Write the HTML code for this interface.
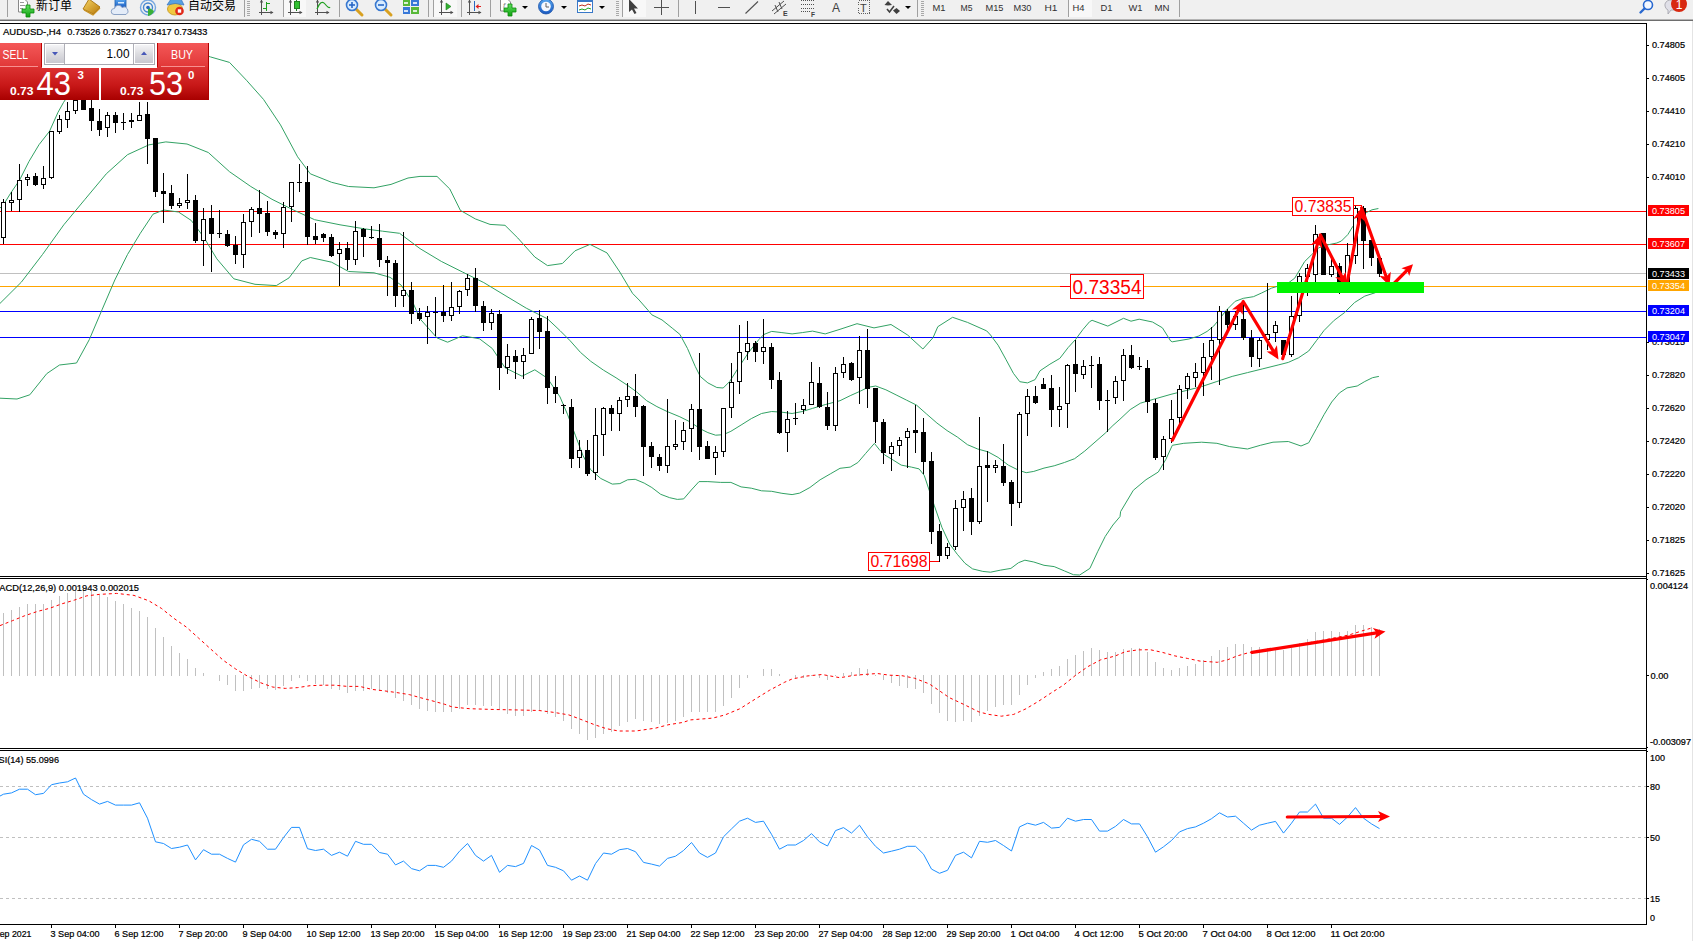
<!DOCTYPE html>
<html lang="zh"><head><meta charset="utf-8"><title>AUDUSD-,H4</title>
<style>html,body{margin:0;padding:0;background:#fff;overflow:hidden}body{width:1693px;height:941px}</style></head>
<body>
<svg width="1693" height="941" viewBox="0 0 1693 941" font-family='"Liberation Sans", "Noto Sans CJK SC", sans-serif' style="display:block">
<defs>
<linearGradient id="gs" x1="0" y1="0" x2="0" y2="1"><stop offset="0" stop-color="#f45858"/><stop offset="1" stop-color="#e03636"/></linearGradient>
<linearGradient id="gd" x1="0" y1="0" x2="0" y2="1"><stop offset="0" stop-color="#dc3232"/><stop offset="0.55" stop-color="#c81818"/><stop offset="1" stop-color="#a80000"/></linearGradient>
<linearGradient id="gb" x1="0" y1="0" x2="0" y2="1"><stop offset="0" stop-color="#f4f4f6"/><stop offset="0.5" stop-color="#dcdce0"/><stop offset="1" stop-color="#c8c8d0"/></linearGradient>
<linearGradient id="gold" x1="0" y1="0" x2="1" y2="1"><stop offset="0" stop-color="#f8d868"/><stop offset="1" stop-color="#b87808"/></linearGradient>
<linearGradient id="blu" x1="0" y1="0" x2="0" y2="1"><stop offset="0" stop-color="#58a8f0"/><stop offset="1" stop-color="#1858c0"/></linearGradient>
<linearGradient id="grn" x1="0" y1="0" x2="0" y2="1"><stop offset="0" stop-color="#60e060"/><stop offset="1" stop-color="#10a010"/></linearGradient>
</defs>
<rect x="0" y="0" width="1693" height="941" fill="#fff"/>
<g shape-rendering="crispEdges">
<rect x="0" y="273" width="1646" height="1" fill="#c0c0c0" />
<rect x="0" y="211" width="1646" height="1" fill="#ff0000" />
<rect x="0" y="244" width="1646" height="1" fill="#ff0000" />
<rect x="0" y="286" width="1646" height="1" fill="#ffa500" />
<rect x="0" y="311" width="1646" height="1" fill="#0000ff" />
<rect x="0" y="337" width="1646" height="1" fill="#0000ff" />
</g>
<polyline points="0.0,208.0 3.3,205.0 11.0,192.6 19.4,180.4 29.0,161.4 39.0,144.7 49.5,131.3 58.0,112.3 63.6,102.3 80.0,78.0 110.0,56.0 150.0,48.0 190.0,50.0 210.4,56.9 229.5,62.4 246.5,80.3 263.5,99.4 280.5,124.9 297.6,156.8 310.3,173.8 331.6,182.3 348.6,186.5 374.0,187.8 391.0,184.4 408.0,178.0 420.0,176.4 437.0,176.4 449.8,189.0 460.4,210.4 475.3,218.9 490.0,224.4 505.0,225.3 517.8,238.0 534.8,257.0 547.5,265.6 562.4,263.5 575.0,250.8 590.0,244.4 607.0,252.9 619.8,272.0 632.5,293.3 639.1,300.0 648.0,310.2 651.8,314.8 662.0,319.9 672.2,328.1 679.9,334.4 687.5,348.5 695.2,366.3 700.3,376.5 707.9,382.9 716.8,387.5 723.2,388.0 729.6,381.6 738.5,367.6 748.7,352.3 758.9,339.5 764.0,334.4 771.7,331.4 781.9,332.6 792.1,333.9 802.3,332.6 812.5,331.1 825.2,333.9 840.0,329.3 857.0,323.7 874.0,327.9 891.0,324.5 907.6,335.0 922.9,349.0 933.1,337.6 937.8,326.7 952.6,317.3 967.5,322.4 986.7,330.9 990.5,335.0 998.1,345.2 1005.8,359.2 1013.4,373.3 1019.8,381.7 1027.5,382.9 1035.1,379.6 1040.0,370.8 1049.9,364.2 1059.8,358.4 1068.1,347.6 1075.6,339.4 1083.0,329.4 1089.6,321.7 1092.1,320.3 1107.8,326.1 1123.5,318.3 1131.0,321.2 1139.2,319.2 1152.5,322.0 1162.4,327.8 1170.7,341.0 1172.3,341.8 1188.9,339.0 1198.8,336.0 1207.1,331.4 1213.7,326.1 1220.3,317.9 1226.9,309.6 1235.2,301.3 1243.4,298.3 1253.4,296.7 1261.6,293.0 1271.6,288.1 1279.8,285.6 1288.1,283.1 1294.7,278.2 1299.7,269.9 1304.6,261.6 1311.3,255.0 1318.9,247.7 1329.0,244.6 1336.8,243.0 1341.4,241.0 1347.8,234.6 1352.9,226.3 1360.0,217.0 1366.9,212.3 1372.0,209.8 1378.4,208.5" fill="none" stroke="#32a264" stroke-width="1" />
<polyline points="0.0,303.4 21.3,282.2 42.5,254.5 63.8,224.8 85.0,199.3 106.3,173.8 127.5,154.7 148.8,144.9 165.8,141.9 187.0,144.0 208.3,152.5 229.5,171.7 250.8,186.5 272.0,199.3 293.3,209.9 314.6,219.7 340.0,224.8 365.6,229.0 382.6,231.2 399.6,233.3 420.0,248.6 441.3,261.4 462.5,272.0 483.8,282.6 505.0,295.4 526.3,308.2 547.5,318.8 560.0,330.6 570.2,340.8 580.4,352.3 590.6,361.2 603.4,370.1 616.1,377.8 627.6,385.4 636.5,391.8 646.7,400.7 656.9,406.6 667.1,411.5 679.9,416.8 690.1,421.9 700.3,428.8 707.9,432.6 715.6,435.2 723.2,434.7 730.9,431.3 741.1,425.0 751.3,418.6 761.5,413.5 771.7,411.5 781.9,412.2 792.1,413.5 802.3,411.5 812.5,408.4 825.2,404.6 840.0,400.7 850.2,395.7 860.4,391.1 868.1,387.3 875.7,386.0 885.9,389.8 896.1,394.9 906.3,400.0 916.5,405.1 926.7,414.1 936.9,423.0 947.1,430.6 957.3,437.0 967.5,444.7 977.7,449.0 987.9,451.8 998.1,457.4 1008.3,465.1 1018.5,470.2 1026.2,472.7 1033.8,471.4 1044.0,468.1 1054.2,465.8 1064.4,462.5 1074.6,458.7 1084.8,451.0 1095.0,442.1 1105.2,433.2 1112.9,425.5 1120.0,419.2 1130.2,409.6 1140.4,403.2 1153.2,399.4 1171.0,394.3 1186.3,390.5 1201.6,386.6 1216.9,381.5 1232.2,376.4 1247.5,372.6 1262.8,368.8 1278.1,365.0 1288.3,362.4 1298.5,357.8 1308.7,351.0 1316.4,340.7 1324.0,330.5 1334.2,320.3 1344.4,312.7 1354.6,302.5 1364.8,296.1 1375.0,292.8 1378.9,291.0" fill="none" stroke="#32a264" stroke-width="1" />
<polyline points="0.0,398.2 17.0,399.0 29.8,394.8 46.8,373.6 59.5,365.0 76.5,363.0 89.3,339.6 102.0,309.8 114.8,280.0 127.5,254.5 140.3,233.3 153.0,214.2 163.7,210.0 178.5,212.0 191.3,220.5 204.0,237.5 216.8,258.8 233.8,278.8 255.0,284.3 276.3,285.6 289.0,277.9 301.8,260.9 310.3,257.5 331.6,262.2 348.6,271.5 374.0,272.8 390.0,277.3 401.0,285.0 413.0,302.8 420.0,318.8 437.0,337.9 447.6,342.2 462.5,335.8 479.5,338.8 492.3,348.5 505.0,367.7 522.0,376.2 534.8,369.8 547.5,378.3 560.0,396.9 567.7,414.8 575.3,435.2 583.0,455.6 590.6,469.6 600.8,478.5 612.3,484.1 619.9,483.6 627.6,479.8 635.2,479.3 644.2,483.1 651.8,487.5 660.7,494.3 669.7,497.7 677.3,499.4 683.7,498.9 691.3,490.0 699.0,481.6 707.9,481.6 720.7,482.4 730.9,482.4 741.1,486.9 751.3,488.2 761.5,490.8 771.7,491.3 781.9,493.3 792.1,494.6 799.7,493.1 809.9,487.5 820.1,479.8 830.3,473.9 840.0,468.3 850.2,467.1 857.9,462.5 865.5,453.6 874.4,443.4 879.5,449.8 884.6,454.9 891.0,458.7 901.2,465.1 911.4,467.1 919.1,468.9 924.2,475.3 929.3,490.6 934.4,505.9 942.0,527.6 949.7,544.1 957.3,554.3 965.0,563.3 972.6,568.9 982.8,571.4 990.5,572.2 1000.7,570.1 1010.9,568.4 1018.5,562.7 1024.9,560.2 1033.8,562.0 1044.0,565.3 1054.2,566.6 1064.4,570.9 1073.4,574.7 1079.7,575.0 1089.9,568.4 1097.6,551.8 1105.2,536.5 1112.9,525.0 1120.0,516.6 1120.6,511.6 1133.3,490.3 1146.0,479.7 1158.3,472.0 1165.9,459.3 1172.3,445.3 1183.8,443.3 1201.6,442.2 1216.9,443.3 1229.7,446.6 1247.5,449.0 1260.3,445.3 1273.0,442.2 1288.3,441.5 1301.0,446.0 1308.7,442.8 1316.4,428.7 1324.0,414.7 1331.7,402.0 1339.3,393.0 1347.0,387.9 1357.2,386.0 1364.8,381.5 1372.5,377.7 1378.9,376.4" fill="none" stroke="#32a264" stroke-width="1" />
<g shape-rendering="crispEdges">
<rect x="3" y="199" width="1" height="45" fill="#000"/>
<rect x="1" y="202" width="5" height="36" fill="#000"/>
<rect x="2" y="203" width="3" height="34" fill="#fff"/>
<rect x="11" y="192" width="1" height="19" fill="#000"/>
<rect x="9" y="200" width="5" height="3" fill="#000"/>
<rect x="10" y="201" width="3" height="1" fill="#fff"/>
<rect x="19" y="164" width="1" height="48" fill="#000"/>
<rect x="17" y="180" width="5" height="20" fill="#000"/>
<rect x="18" y="181" width="3" height="18" fill="#fff"/>
<rect x="27" y="174" width="1" height="12" fill="#000"/>
<rect x="25" y="177" width="5" height="3" fill="#000"/>
<rect x="26" y="178" width="3" height="1" fill="#fff"/>
<rect x="35" y="173" width="1" height="13" fill="#000"/>
<rect x="33" y="176" width="5" height="9" fill="#000"/>
<rect x="43" y="166" width="1" height="23" fill="#000"/>
<rect x="41" y="178" width="5" height="7" fill="#000"/>
<rect x="42" y="179" width="3" height="5" fill="#fff"/>
<rect x="51" y="131" width="1" height="48" fill="#000"/>
<rect x="49" y="131" width="5" height="47" fill="#000"/>
<rect x="50" y="132" width="3" height="45" fill="#fff"/>
<rect x="59" y="115" width="1" height="19" fill="#000"/>
<rect x="57" y="119" width="5" height="13" fill="#000"/>
<rect x="58" y="120" width="3" height="11" fill="#fff"/>
<rect x="67" y="102" width="1" height="26" fill="#000"/>
<rect x="65" y="111" width="5" height="9" fill="#000"/>
<rect x="66" y="112" width="3" height="7" fill="#fff"/>
<rect x="75" y="98" width="1" height="16" fill="#000"/>
<rect x="73" y="100" width="5" height="11" fill="#000"/>
<rect x="74" y="101" width="3" height="9" fill="#fff"/>
<rect x="83" y="98" width="1" height="12" fill="#000"/>
<rect x="81" y="98" width="5" height="12" fill="#000"/>
<rect x="91" y="100" width="1" height="31" fill="#000"/>
<rect x="89" y="108" width="5" height="13" fill="#000"/>
<rect x="99" y="109" width="1" height="27" fill="#000"/>
<rect x="97" y="121" width="5" height="9" fill="#000"/>
<rect x="107" y="112" width="1" height="25" fill="#000"/>
<rect x="105" y="115" width="5" height="13" fill="#000"/>
<rect x="106" y="116" width="3" height="11" fill="#fff"/>
<rect x="115" y="112" width="1" height="21" fill="#000"/>
<rect x="113" y="115" width="5" height="8" fill="#000"/>
<rect x="123" y="113" width="1" height="17" fill="#000"/>
<rect x="121" y="122" width="5" height="1" fill="#000"/>
<rect x="131" y="113" width="1" height="15" fill="#000"/>
<rect x="129" y="120" width="5" height="2" fill="#000"/>
<rect x="139" y="102" width="1" height="19" fill="#000"/>
<rect x="137" y="115" width="5" height="6" fill="#000"/>
<rect x="138" y="116" width="3" height="4" fill="#fff"/>
<rect x="147" y="102" width="1" height="62" fill="#000"/>
<rect x="145" y="114" width="5" height="25" fill="#000"/>
<rect x="155" y="138" width="1" height="59" fill="#000"/>
<rect x="153" y="138" width="5" height="54" fill="#000"/>
<rect x="163" y="173" width="1" height="50" fill="#000"/>
<rect x="161" y="191" width="5" height="3" fill="#000"/>
<rect x="171" y="185" width="1" height="24" fill="#000"/>
<rect x="169" y="193" width="5" height="13" fill="#000"/>
<rect x="179" y="198" width="1" height="10" fill="#000"/>
<rect x="177" y="203" width="5" height="3" fill="#000"/>
<rect x="178" y="204" width="3" height="1" fill="#fff"/>
<rect x="187" y="174" width="1" height="35" fill="#000"/>
<rect x="185" y="200" width="5" height="3" fill="#000"/>
<rect x="186" y="201" width="3" height="1" fill="#fff"/>
<rect x="195" y="195" width="1" height="48" fill="#000"/>
<rect x="193" y="200" width="5" height="41" fill="#000"/>
<rect x="203" y="208" width="1" height="58" fill="#000"/>
<rect x="201" y="219" width="5" height="22" fill="#000"/>
<rect x="202" y="220" width="3" height="20" fill="#fff"/>
<rect x="211" y="205" width="1" height="67" fill="#000"/>
<rect x="209" y="218" width="5" height="16" fill="#000"/>
<rect x="219" y="210" width="1" height="28" fill="#000"/>
<rect x="217" y="233" width="5" height="1" fill="#000"/>
<rect x="227" y="230" width="1" height="17" fill="#000"/>
<rect x="225" y="234" width="5" height="12" fill="#000"/>
<rect x="235" y="236" width="1" height="28" fill="#000"/>
<rect x="233" y="245" width="5" height="10" fill="#000"/>
<rect x="243" y="214" width="1" height="54" fill="#000"/>
<rect x="241" y="222" width="5" height="33" fill="#000"/>
<rect x="242" y="223" width="3" height="31" fill="#fff"/>
<rect x="251" y="207" width="1" height="30" fill="#000"/>
<rect x="249" y="209" width="5" height="13" fill="#000"/>
<rect x="250" y="210" width="3" height="11" fill="#fff"/>
<rect x="259" y="190" width="1" height="43" fill="#000"/>
<rect x="257" y="208" width="5" height="6" fill="#000"/>
<rect x="267" y="201" width="1" height="35" fill="#000"/>
<rect x="265" y="213" width="5" height="19" fill="#000"/>
<rect x="275" y="230" width="1" height="9" fill="#000"/>
<rect x="273" y="232" width="5" height="3" fill="#000"/>
<rect x="283" y="202" width="1" height="46" fill="#000"/>
<rect x="281" y="207" width="5" height="27" fill="#000"/>
<rect x="282" y="208" width="3" height="25" fill="#fff"/>
<rect x="291" y="182" width="1" height="40" fill="#000"/>
<rect x="289" y="182" width="5" height="25" fill="#000"/>
<rect x="290" y="183" width="3" height="23" fill="#fff"/>
<rect x="299" y="164" width="1" height="28" fill="#000"/>
<rect x="297" y="182" width="5" height="1" fill="#000"/>
<rect x="307" y="166" width="1" height="79" fill="#000"/>
<rect x="305" y="182" width="5" height="55" fill="#000"/>
<rect x="315" y="223" width="1" height="21" fill="#000"/>
<rect x="313" y="236" width="5" height="4" fill="#000"/>
<rect x="323" y="233" width="1" height="9" fill="#000"/>
<rect x="321" y="234" width="5" height="4" fill="#000"/>
<rect x="331" y="234" width="1" height="23" fill="#000"/>
<rect x="329" y="237" width="5" height="19" fill="#000"/>
<rect x="339" y="242" width="1" height="44" fill="#000"/>
<rect x="337" y="249" width="5" height="5" fill="#000"/>
<rect x="338" y="250" width="3" height="3" fill="#fff"/>
<rect x="347" y="242" width="1" height="28" fill="#000"/>
<rect x="345" y="248" width="5" height="12" fill="#000"/>
<rect x="355" y="221" width="1" height="44" fill="#000"/>
<rect x="353" y="231" width="5" height="29" fill="#000"/>
<rect x="354" y="232" width="3" height="27" fill="#fff"/>
<rect x="363" y="228" width="1" height="29" fill="#000"/>
<rect x="361" y="229" width="5" height="8" fill="#000"/>
<rect x="371" y="226" width="1" height="13" fill="#000"/>
<rect x="369" y="237" width="5" height="1" fill="#000"/>
<rect x="379" y="224" width="1" height="43" fill="#000"/>
<rect x="377" y="238" width="5" height="22" fill="#000"/>
<rect x="387" y="256" width="1" height="40" fill="#000"/>
<rect x="385" y="260" width="5" height="3" fill="#000"/>
<rect x="395" y="260" width="1" height="47" fill="#000"/>
<rect x="393" y="263" width="5" height="33" fill="#000"/>
<rect x="403" y="232" width="1" height="75" fill="#000"/>
<rect x="401" y="290" width="5" height="6" fill="#000"/>
<rect x="402" y="291" width="3" height="4" fill="#fff"/>
<rect x="411" y="282" width="1" height="42" fill="#000"/>
<rect x="409" y="290" width="5" height="24" fill="#000"/>
<rect x="419" y="308" width="1" height="13" fill="#000"/>
<rect x="417" y="313" width="5" height="6" fill="#000"/>
<rect x="427" y="306" width="1" height="38" fill="#000"/>
<rect x="425" y="312" width="5" height="5" fill="#000"/>
<rect x="426" y="313" width="3" height="3" fill="#fff"/>
<rect x="435" y="297" width="1" height="39" fill="#000"/>
<rect x="433" y="312" width="5" height="1" fill="#000"/>
<rect x="443" y="285" width="1" height="37" fill="#000"/>
<rect x="441" y="312" width="5" height="4" fill="#000"/>
<rect x="451" y="282" width="1" height="39" fill="#000"/>
<rect x="449" y="307" width="5" height="9" fill="#000"/>
<rect x="450" y="308" width="3" height="7" fill="#fff"/>
<rect x="459" y="290" width="1" height="24" fill="#000"/>
<rect x="457" y="291" width="5" height="16" fill="#000"/>
<rect x="458" y="292" width="3" height="14" fill="#fff"/>
<rect x="467" y="274" width="1" height="22" fill="#000"/>
<rect x="465" y="278" width="5" height="12" fill="#000"/>
<rect x="466" y="279" width="3" height="10" fill="#fff"/>
<rect x="475" y="268" width="1" height="44" fill="#000"/>
<rect x="473" y="278" width="5" height="28" fill="#000"/>
<rect x="483" y="301" width="1" height="30" fill="#000"/>
<rect x="481" y="306" width="5" height="17" fill="#000"/>
<rect x="491" y="309" width="1" height="21" fill="#000"/>
<rect x="489" y="313" width="5" height="10" fill="#000"/>
<rect x="490" y="314" width="3" height="8" fill="#fff"/>
<rect x="499" y="310" width="1" height="80" fill="#000"/>
<rect x="497" y="314" width="5" height="54" fill="#000"/>
<rect x="507" y="344" width="1" height="30" fill="#000"/>
<rect x="505" y="356" width="5" height="12" fill="#000"/>
<rect x="506" y="357" width="3" height="10" fill="#fff"/>
<rect x="515" y="350" width="1" height="29" fill="#000"/>
<rect x="513" y="356" width="5" height="6" fill="#000"/>
<rect x="523" y="348" width="1" height="31" fill="#000"/>
<rect x="521" y="355" width="5" height="7" fill="#000"/>
<rect x="522" y="356" width="3" height="5" fill="#fff"/>
<rect x="531" y="317" width="1" height="37" fill="#000"/>
<rect x="529" y="319" width="5" height="35" fill="#000"/>
<rect x="530" y="320" width="3" height="33" fill="#fff"/>
<rect x="539" y="310" width="1" height="39" fill="#000"/>
<rect x="537" y="318" width="5" height="14" fill="#000"/>
<rect x="547" y="316" width="1" height="88" fill="#000"/>
<rect x="545" y="331" width="5" height="57" fill="#000"/>
<rect x="555" y="376" width="1" height="27" fill="#000"/>
<rect x="553" y="387" width="5" height="7" fill="#000"/>
<rect x="563" y="404" width="1" height="10" fill="#000"/>
<rect x="561" y="405" width="5" height="1" fill="#000"/>
<rect x="571" y="399" width="1" height="69" fill="#000"/>
<rect x="569" y="407" width="5" height="52" fill="#000"/>
<rect x="579" y="440" width="1" height="28" fill="#000"/>
<rect x="577" y="450" width="5" height="8" fill="#000"/>
<rect x="578" y="451" width="3" height="6" fill="#fff"/>
<rect x="587" y="440" width="1" height="36" fill="#000"/>
<rect x="585" y="450" width="5" height="24" fill="#000"/>
<rect x="595" y="408" width="1" height="72" fill="#000"/>
<rect x="593" y="435" width="5" height="38" fill="#000"/>
<rect x="594" y="436" width="3" height="36" fill="#fff"/>
<rect x="603" y="407" width="1" height="49" fill="#000"/>
<rect x="601" y="408" width="5" height="27" fill="#000"/>
<rect x="602" y="409" width="3" height="25" fill="#fff"/>
<rect x="611" y="405" width="1" height="26" fill="#000"/>
<rect x="609" y="408" width="5" height="6" fill="#000"/>
<rect x="619" y="397" width="1" height="34" fill="#000"/>
<rect x="617" y="400" width="5" height="14" fill="#000"/>
<rect x="618" y="401" width="3" height="12" fill="#fff"/>
<rect x="627" y="383" width="1" height="24" fill="#000"/>
<rect x="625" y="396" width="5" height="4" fill="#000"/>
<rect x="626" y="397" width="3" height="2" fill="#fff"/>
<rect x="635" y="374" width="1" height="43" fill="#000"/>
<rect x="633" y="396" width="5" height="11" fill="#000"/>
<rect x="643" y="405" width="1" height="71" fill="#000"/>
<rect x="641" y="406" width="5" height="41" fill="#000"/>
<rect x="651" y="442" width="1" height="26" fill="#000"/>
<rect x="649" y="446" width="5" height="11" fill="#000"/>
<rect x="659" y="454" width="1" height="17" fill="#000"/>
<rect x="657" y="457" width="5" height="9" fill="#000"/>
<rect x="667" y="399" width="1" height="74" fill="#000"/>
<rect x="665" y="446" width="5" height="20" fill="#000"/>
<rect x="666" y="447" width="3" height="18" fill="#fff"/>
<rect x="675" y="420" width="1" height="30" fill="#000"/>
<rect x="673" y="444" width="5" height="3" fill="#000"/>
<rect x="674" y="445" width="3" height="1" fill="#fff"/>
<rect x="683" y="422" width="1" height="28" fill="#000"/>
<rect x="681" y="430" width="5" height="12" fill="#000"/>
<rect x="682" y="431" width="3" height="10" fill="#fff"/>
<rect x="691" y="404" width="1" height="48" fill="#000"/>
<rect x="689" y="409" width="5" height="20" fill="#000"/>
<rect x="690" y="410" width="3" height="18" fill="#fff"/>
<rect x="699" y="353" width="1" height="107" fill="#000"/>
<rect x="697" y="409" width="5" height="38" fill="#000"/>
<rect x="707" y="441" width="1" height="18" fill="#000"/>
<rect x="705" y="446" width="5" height="13" fill="#000"/>
<rect x="715" y="446" width="1" height="29" fill="#000"/>
<rect x="713" y="452" width="5" height="6" fill="#000"/>
<rect x="714" y="453" width="3" height="4" fill="#fff"/>
<rect x="723" y="408" width="1" height="49" fill="#000"/>
<rect x="721" y="408" width="5" height="44" fill="#000"/>
<rect x="722" y="409" width="3" height="42" fill="#fff"/>
<rect x="731" y="363" width="1" height="55" fill="#000"/>
<rect x="729" y="382" width="5" height="26" fill="#000"/>
<rect x="730" y="383" width="3" height="24" fill="#fff"/>
<rect x="739" y="325" width="1" height="69" fill="#000"/>
<rect x="737" y="352" width="5" height="30" fill="#000"/>
<rect x="738" y="353" width="3" height="28" fill="#fff"/>
<rect x="747" y="321" width="1" height="39" fill="#000"/>
<rect x="745" y="343" width="5" height="9" fill="#000"/>
<rect x="746" y="344" width="3" height="7" fill="#fff"/>
<rect x="755" y="341" width="1" height="21" fill="#000"/>
<rect x="753" y="343" width="5" height="9" fill="#000"/>
<rect x="763" y="319" width="1" height="45" fill="#000"/>
<rect x="761" y="347" width="5" height="5" fill="#000"/>
<rect x="762" y="348" width="3" height="3" fill="#fff"/>
<rect x="771" y="343" width="1" height="46" fill="#000"/>
<rect x="769" y="347" width="5" height="33" fill="#000"/>
<rect x="779" y="372" width="1" height="62" fill="#000"/>
<rect x="777" y="380" width="5" height="53" fill="#000"/>
<rect x="787" y="411" width="1" height="41" fill="#000"/>
<rect x="785" y="419" width="5" height="14" fill="#000"/>
<rect x="786" y="420" width="3" height="12" fill="#fff"/>
<rect x="795" y="403" width="1" height="22" fill="#000"/>
<rect x="793" y="418" width="5" height="1" fill="#000"/>
<rect x="803" y="399" width="1" height="15" fill="#000"/>
<rect x="801" y="405" width="5" height="5" fill="#000"/>
<rect x="802" y="406" width="3" height="3" fill="#fff"/>
<rect x="811" y="362" width="1" height="43" fill="#000"/>
<rect x="809" y="382" width="5" height="23" fill="#000"/>
<rect x="810" y="383" width="3" height="21" fill="#fff"/>
<rect x="819" y="367" width="1" height="41" fill="#000"/>
<rect x="817" y="383" width="5" height="24" fill="#000"/>
<rect x="827" y="392" width="1" height="38" fill="#000"/>
<rect x="825" y="407" width="5" height="19" fill="#000"/>
<rect x="835" y="367" width="1" height="64" fill="#000"/>
<rect x="833" y="373" width="5" height="53" fill="#000"/>
<rect x="834" y="374" width="3" height="51" fill="#fff"/>
<rect x="843" y="357" width="1" height="21" fill="#000"/>
<rect x="841" y="364" width="5" height="9" fill="#000"/>
<rect x="842" y="365" width="3" height="7" fill="#fff"/>
<rect x="851" y="362" width="1" height="19" fill="#000"/>
<rect x="849" y="363" width="5" height="17" fill="#000"/>
<rect x="859" y="336" width="1" height="68" fill="#000"/>
<rect x="857" y="350" width="5" height="28" fill="#000"/>
<rect x="858" y="351" width="3" height="26" fill="#fff"/>
<rect x="867" y="329" width="1" height="79" fill="#000"/>
<rect x="865" y="350" width="5" height="39" fill="#000"/>
<rect x="875" y="388" width="1" height="55" fill="#000"/>
<rect x="873" y="388" width="5" height="34" fill="#000"/>
<rect x="883" y="419" width="1" height="45" fill="#000"/>
<rect x="881" y="422" width="5" height="31" fill="#000"/>
<rect x="891" y="442" width="1" height="29" fill="#000"/>
<rect x="889" y="446" width="5" height="8" fill="#000"/>
<rect x="890" y="447" width="3" height="6" fill="#fff"/>
<rect x="899" y="437" width="1" height="19" fill="#000"/>
<rect x="897" y="440" width="5" height="6" fill="#000"/>
<rect x="898" y="441" width="3" height="4" fill="#fff"/>
<rect x="907" y="428" width="1" height="40" fill="#000"/>
<rect x="905" y="431" width="5" height="7" fill="#000"/>
<rect x="906" y="432" width="3" height="5" fill="#fff"/>
<rect x="915" y="405" width="1" height="48" fill="#000"/>
<rect x="913" y="430" width="5" height="3" fill="#000"/>
<rect x="923" y="418" width="1" height="56" fill="#000"/>
<rect x="921" y="432" width="5" height="30" fill="#000"/>
<rect x="931" y="452" width="1" height="92" fill="#000"/>
<rect x="929" y="461" width="5" height="71" fill="#000"/>
<rect x="939" y="524" width="1" height="38" fill="#000"/>
<rect x="937" y="531" width="5" height="25" fill="#000"/>
<rect x="947" y="543" width="1" height="16" fill="#000"/>
<rect x="945" y="547" width="5" height="9" fill="#000"/>
<rect x="946" y="548" width="3" height="7" fill="#fff"/>
<rect x="955" y="500" width="1" height="50" fill="#000"/>
<rect x="953" y="508" width="5" height="39" fill="#000"/>
<rect x="954" y="509" width="3" height="37" fill="#fff"/>
<rect x="963" y="491" width="1" height="40" fill="#000"/>
<rect x="961" y="499" width="5" height="9" fill="#000"/>
<rect x="962" y="500" width="3" height="7" fill="#fff"/>
<rect x="971" y="488" width="1" height="47" fill="#000"/>
<rect x="969" y="498" width="5" height="24" fill="#000"/>
<rect x="979" y="417" width="1" height="107" fill="#000"/>
<rect x="977" y="466" width="5" height="56" fill="#000"/>
<rect x="978" y="467" width="3" height="54" fill="#fff"/>
<rect x="987" y="451" width="1" height="51" fill="#000"/>
<rect x="985" y="465" width="5" height="3" fill="#000"/>
<rect x="995" y="460" width="1" height="13" fill="#000"/>
<rect x="993" y="465" width="5" height="3" fill="#000"/>
<rect x="994" y="466" width="3" height="1" fill="#fff"/>
<rect x="1003" y="444" width="1" height="42" fill="#000"/>
<rect x="1001" y="466" width="5" height="17" fill="#000"/>
<rect x="1011" y="480" width="1" height="46" fill="#000"/>
<rect x="1009" y="482" width="5" height="22" fill="#000"/>
<rect x="1019" y="412" width="1" height="96" fill="#000"/>
<rect x="1017" y="414" width="5" height="89" fill="#000"/>
<rect x="1018" y="415" width="3" height="87" fill="#fff"/>
<rect x="1027" y="389" width="1" height="47" fill="#000"/>
<rect x="1025" y="396" width="5" height="18" fill="#000"/>
<rect x="1026" y="397" width="3" height="16" fill="#fff"/>
<rect x="1035" y="386" width="1" height="18" fill="#000"/>
<rect x="1033" y="396" width="5" height="7" fill="#000"/>
<rect x="1043" y="378" width="1" height="11" fill="#000"/>
<rect x="1041" y="384" width="5" height="5" fill="#000"/>
<rect x="1051" y="375" width="1" height="52" fill="#000"/>
<rect x="1049" y="388" width="5" height="22" fill="#000"/>
<rect x="1059" y="387" width="1" height="40" fill="#000"/>
<rect x="1057" y="406" width="5" height="4" fill="#000"/>
<rect x="1058" y="407" width="3" height="2" fill="#fff"/>
<rect x="1067" y="364" width="1" height="64" fill="#000"/>
<rect x="1065" y="365" width="5" height="39" fill="#000"/>
<rect x="1066" y="366" width="3" height="37" fill="#fff"/>
<rect x="1075" y="340" width="1" height="52" fill="#000"/>
<rect x="1073" y="364" width="5" height="10" fill="#000"/>
<rect x="1083" y="360" width="1" height="19" fill="#000"/>
<rect x="1081" y="366" width="5" height="9" fill="#000"/>
<rect x="1082" y="367" width="3" height="7" fill="#fff"/>
<rect x="1091" y="356" width="1" height="32" fill="#000"/>
<rect x="1089" y="365" width="5" height="1" fill="#000"/>
<rect x="1099" y="357" width="1" height="53" fill="#000"/>
<rect x="1097" y="364" width="5" height="37" fill="#000"/>
<rect x="1107" y="390" width="1" height="42" fill="#000"/>
<rect x="1105" y="400" width="5" height="1" fill="#000"/>
<rect x="1115" y="376" width="1" height="28" fill="#000"/>
<rect x="1113" y="381" width="5" height="17" fill="#000"/>
<rect x="1114" y="382" width="3" height="15" fill="#fff"/>
<rect x="1123" y="349" width="1" height="52" fill="#000"/>
<rect x="1121" y="355" width="5" height="26" fill="#000"/>
<rect x="1122" y="356" width="3" height="24" fill="#fff"/>
<rect x="1131" y="345" width="1" height="24" fill="#000"/>
<rect x="1129" y="355" width="5" height="13" fill="#000"/>
<rect x="1139" y="357" width="1" height="13" fill="#000"/>
<rect x="1137" y="366" width="5" height="1" fill="#000"/>
<rect x="1147" y="360" width="1" height="53" fill="#000"/>
<rect x="1145" y="368" width="5" height="34" fill="#000"/>
<rect x="1155" y="399" width="1" height="61" fill="#000"/>
<rect x="1153" y="403" width="5" height="55" fill="#000"/>
<rect x="1163" y="436" width="1" height="34" fill="#000"/>
<rect x="1161" y="439" width="5" height="18" fill="#000"/>
<rect x="1162" y="440" width="3" height="16" fill="#fff"/>
<rect x="1171" y="400" width="1" height="43" fill="#000"/>
<rect x="1169" y="419" width="5" height="20" fill="#000"/>
<rect x="1170" y="420" width="3" height="18" fill="#fff"/>
<rect x="1179" y="385" width="1" height="43" fill="#000"/>
<rect x="1177" y="389" width="5" height="29" fill="#000"/>
<rect x="1178" y="390" width="3" height="27" fill="#fff"/>
<rect x="1187" y="373" width="1" height="26" fill="#000"/>
<rect x="1185" y="376" width="5" height="13" fill="#000"/>
<rect x="1186" y="377" width="3" height="11" fill="#fff"/>
<rect x="1195" y="363" width="1" height="24" fill="#000"/>
<rect x="1193" y="372" width="5" height="6" fill="#000"/>
<rect x="1194" y="373" width="3" height="4" fill="#fff"/>
<rect x="1203" y="343" width="1" height="53" fill="#000"/>
<rect x="1201" y="357" width="5" height="16" fill="#000"/>
<rect x="1202" y="358" width="3" height="14" fill="#fff"/>
<rect x="1211" y="327" width="1" height="53" fill="#000"/>
<rect x="1209" y="340" width="5" height="17" fill="#000"/>
<rect x="1210" y="341" width="3" height="15" fill="#fff"/>
<rect x="1219" y="306" width="1" height="79" fill="#000"/>
<rect x="1217" y="311" width="5" height="29" fill="#000"/>
<rect x="1218" y="312" width="3" height="27" fill="#fff"/>
<rect x="1227" y="309" width="1" height="23" fill="#000"/>
<rect x="1225" y="311" width="5" height="14" fill="#000"/>
<rect x="1235" y="311" width="1" height="19" fill="#000"/>
<rect x="1233" y="316" width="5" height="9" fill="#000"/>
<rect x="1234" y="317" width="3" height="7" fill="#fff"/>
<rect x="1243" y="301" width="1" height="39" fill="#000"/>
<rect x="1241" y="319" width="5" height="19" fill="#000"/>
<rect x="1251" y="330" width="1" height="37" fill="#000"/>
<rect x="1249" y="338" width="5" height="19" fill="#000"/>
<rect x="1259" y="338" width="1" height="29" fill="#000"/>
<rect x="1257" y="340" width="5" height="19" fill="#000"/>
<rect x="1258" y="341" width="3" height="17" fill="#fff"/>
<rect x="1267" y="283" width="1" height="67" fill="#000"/>
<rect x="1265" y="334" width="5" height="6" fill="#000"/>
<rect x="1266" y="335" width="3" height="4" fill="#fff"/>
<rect x="1275" y="321" width="1" height="21" fill="#000"/>
<rect x="1273" y="325" width="5" height="8" fill="#000"/>
<rect x="1274" y="326" width="3" height="6" fill="#fff"/>
<rect x="1283" y="340" width="1" height="16" fill="#000"/>
<rect x="1281" y="340" width="5" height="15" fill="#000"/>
<rect x="1291" y="296" width="1" height="61" fill="#000"/>
<rect x="1289" y="316" width="5" height="39" fill="#000"/>
<rect x="1290" y="317" width="3" height="37" fill="#fff"/>
<rect x="1299" y="273" width="1" height="49" fill="#000"/>
<rect x="1297" y="276" width="5" height="40" fill="#000"/>
<rect x="1298" y="277" width="3" height="38" fill="#fff"/>
<rect x="1307" y="264" width="1" height="32" fill="#000"/>
<rect x="1305" y="268" width="5" height="9" fill="#000"/>
<rect x="1306" y="269" width="3" height="7" fill="#fff"/>
<rect x="1315" y="225" width="1" height="57" fill="#000"/>
<rect x="1313" y="234" width="5" height="41" fill="#000"/>
<rect x="1314" y="235" width="3" height="39" fill="#fff"/>
<rect x="1323" y="233" width="1" height="42" fill="#000"/>
<rect x="1321" y="233" width="5" height="42" fill="#000"/>
<rect x="1331" y="259" width="1" height="18" fill="#000"/>
<rect x="1329" y="266" width="5" height="9" fill="#000"/>
<rect x="1330" y="267" width="3" height="7" fill="#fff"/>
<rect x="1339" y="263" width="1" height="31" fill="#000"/>
<rect x="1337" y="266" width="5" height="16" fill="#000"/>
<rect x="1347" y="243" width="1" height="39" fill="#000"/>
<rect x="1345" y="255" width="5" height="27" fill="#000"/>
<rect x="1346" y="256" width="3" height="25" fill="#fff"/>
<rect x="1355" y="205" width="1" height="59" fill="#000"/>
<rect x="1353" y="208" width="5" height="48" fill="#000"/>
<rect x="1354" y="209" width="3" height="46" fill="#fff"/>
<rect x="1363" y="206" width="1" height="63" fill="#000"/>
<rect x="1361" y="208" width="5" height="33" fill="#000"/>
<rect x="1371" y="240" width="1" height="26" fill="#000"/>
<rect x="1369" y="240" width="5" height="18" fill="#000"/>
<rect x="1379" y="258" width="1" height="19" fill="#000"/>
<rect x="1377" y="258" width="5" height="16" fill="#000"/>
</g>
<line x1="1172.3" y1="440.2" x2="1238.8" y2="309.2" stroke="#ff0000" stroke-width="3.2" stroke-linecap="round"/>
<polygon points="1243.2,300.5 1242.7,314.8 1238.8,309.2 1232.0,309.4" fill="#ff0000"/>
<line x1="1243.2" y1="301.5" x2="1273.4" y2="351.2" stroke="#ff0000" stroke-width="3.2" stroke-linecap="round"/>
<polygon points="1278.5,359.5 1266.6,351.5 1273.4,351.2 1276.9,345.3" fill="#ff0000"/>
<line x1="1282.7" y1="358.6" x2="1317.6" y2="243.6" stroke="#ff0000" stroke-width="3.2" stroke-linecap="round"/>
<polygon points="1320.4,234.3 1322.4,248.5 1317.6,243.6 1310.9,245.0" fill="#ff0000"/>
<line x1="1320.4" y1="235.0" x2="1342.1" y2="277.3" stroke="#ff0000" stroke-width="3.2" stroke-linecap="round"/>
<polygon points="1346.5,286.0 1335.2,277.2 1342.1,277.3 1345.9,271.7" fill="#ff0000"/>
<line x1="1346.5" y1="286.0" x2="1359.8" y2="217.1" stroke="#ff0000" stroke-width="3.2" stroke-linecap="round"/>
<polygon points="1361.6,207.5 1365.0,221.4 1359.8,217.1 1353.3,219.1" fill="#ff0000"/>
<line x1="1361.6" y1="208.0" x2="1386.2" y2="276.8" stroke="#ff0000" stroke-width="3.2" stroke-linecap="round"/>
<polygon points="1389.5,286.0 1379.5,275.8 1386.2,276.8 1390.8,271.7" fill="#ff0000"/>
<line x1="1391.5" y1="286.0" x2="1407.2" y2="270.2" stroke="#ff0000" stroke-width="3.2" stroke-linecap="round"/>
<polygon points="1413.0,264.3 1409.2,276.0 1407.2,270.2 1401.4,268.2" fill="#ff0000"/>
<rect x="1277" y="282" width="147" height="11" fill="#00f400" shape-rendering="crispEdges"/>
<rect x="1070.5" y="274.5" width="73" height="24" fill="#fff" stroke="#ff0000" stroke-width="1" shape-rendering="crispEdges"/>
<text x="1107.0" y="293.5" font-size="20" fill="#ff0000" text-anchor="middle" font-weight="normal" textLength="69" lengthAdjust="spacingAndGlyphs">0.73354</text>
<rect x="1060" y="286" width="10" height="1" fill="#ff0000" shape-rendering="crispEdges"/>
<rect x="1292.5" y="197.5" width="61" height="18" fill="#fff" stroke="#ff0000" stroke-width="1" shape-rendering="crispEdges"/>
<text x="1323.0" y="212" font-size="16.5" fill="#ff0000" text-anchor="middle" font-weight="normal" textLength="57" lengthAdjust="spacingAndGlyphs">0.73835</text>
<polyline points="1353,205.5 1361.5,205.5 1361.5,208" fill="none" stroke="#ff0000" stroke-width="1" shape-rendering="crispEdges"/>
<rect x="868.5" y="552.5" width="61" height="18" fill="#fff" stroke="#ff0000" stroke-width="1" shape-rendering="crispEdges"/>
<text x="899.0" y="567" font-size="16.5" fill="#ff0000" text-anchor="middle" font-weight="normal" textLength="57" lengthAdjust="spacingAndGlyphs">0.71698</text>
<rect x="930" y="561" width="9" height="1" fill="#ff0000" shape-rendering="crispEdges"/>
<g shape-rendering="crispEdges">
<rect x="3" y="613" width="1" height="63" fill="#c0c0c0"/>
<rect x="11" y="610" width="1" height="66" fill="#c0c0c0"/>
<rect x="19" y="607" width="1" height="69" fill="#c0c0c0"/>
<rect x="27" y="604" width="1" height="72" fill="#c0c0c0"/>
<rect x="35" y="604" width="1" height="72" fill="#c0c0c0"/>
<rect x="43" y="604" width="1" height="72" fill="#c0c0c0"/>
<rect x="51" y="600" width="1" height="76" fill="#c0c0c0"/>
<rect x="59" y="596" width="1" height="80" fill="#c0c0c0"/>
<rect x="67" y="593" width="1" height="83" fill="#c0c0c0"/>
<rect x="75" y="590" width="1" height="86" fill="#c0c0c0"/>
<rect x="83" y="588" width="1" height="88" fill="#c0c0c0"/>
<rect x="91" y="591" width="1" height="85" fill="#c0c0c0"/>
<rect x="99" y="595" width="1" height="81" fill="#c0c0c0"/>
<rect x="107" y="597" width="1" height="79" fill="#c0c0c0"/>
<rect x="115" y="601" width="1" height="75" fill="#c0c0c0"/>
<rect x="123" y="604" width="1" height="72" fill="#c0c0c0"/>
<rect x="131" y="608" width="1" height="68" fill="#c0c0c0"/>
<rect x="139" y="611" width="1" height="65" fill="#c0c0c0"/>
<rect x="147" y="617" width="1" height="59" fill="#c0c0c0"/>
<rect x="155" y="628" width="1" height="48" fill="#c0c0c0"/>
<rect x="163" y="637" width="1" height="39" fill="#c0c0c0"/>
<rect x="171" y="646" width="1" height="30" fill="#c0c0c0"/>
<rect x="179" y="653" width="1" height="23" fill="#c0c0c0"/>
<rect x="187" y="659" width="1" height="17" fill="#c0c0c0"/>
<rect x="195" y="668" width="1" height="8" fill="#c0c0c0"/>
<rect x="203" y="673" width="1" height="3" fill="#c0c0c0"/>
<rect x="219" y="675" width="1" height="6" fill="#c0c0c0"/>
<rect x="227" y="675" width="1" height="10" fill="#c0c0c0"/>
<rect x="235" y="675" width="1" height="16" fill="#c0c0c0"/>
<rect x="243" y="675" width="1" height="16" fill="#c0c0c0"/>
<rect x="251" y="675" width="1" height="14" fill="#c0c0c0"/>
<rect x="259" y="675" width="1" height="13" fill="#c0c0c0"/>
<rect x="267" y="675" width="1" height="14" fill="#c0c0c0"/>
<rect x="275" y="675" width="1" height="15" fill="#c0c0c0"/>
<rect x="283" y="675" width="1" height="11" fill="#c0c0c0"/>
<rect x="291" y="675" width="1" height="6" fill="#c0c0c0"/>
<rect x="299" y="675" width="1" height="3" fill="#c0c0c0"/>
<rect x="307" y="675" width="1" height="6" fill="#c0c0c0"/>
<rect x="315" y="675" width="1" height="9" fill="#c0c0c0"/>
<rect x="323" y="675" width="1" height="10" fill="#c0c0c0"/>
<rect x="331" y="675" width="1" height="14" fill="#c0c0c0"/>
<rect x="339" y="675" width="1" height="15" fill="#c0c0c0"/>
<rect x="347" y="675" width="1" height="18" fill="#c0c0c0"/>
<rect x="355" y="675" width="1" height="16" fill="#c0c0c0"/>
<rect x="363" y="675" width="1" height="16" fill="#c0c0c0"/>
<rect x="371" y="675" width="1" height="14" fill="#c0c0c0"/>
<rect x="379" y="675" width="1" height="16" fill="#c0c0c0"/>
<rect x="387" y="675" width="1" height="18" fill="#c0c0c0"/>
<rect x="395" y="675" width="1" height="23" fill="#c0c0c0"/>
<rect x="403" y="675" width="1" height="26" fill="#c0c0c0"/>
<rect x="411" y="675" width="1" height="30" fill="#c0c0c0"/>
<rect x="419" y="675" width="1" height="34" fill="#c0c0c0"/>
<rect x="427" y="675" width="1" height="36" fill="#c0c0c0"/>
<rect x="435" y="675" width="1" height="37" fill="#c0c0c0"/>
<rect x="443" y="675" width="1" height="37" fill="#c0c0c0"/>
<rect x="451" y="675" width="1" height="37" fill="#c0c0c0"/>
<rect x="459" y="675" width="1" height="34" fill="#c0c0c0"/>
<rect x="467" y="675" width="1" height="30" fill="#c0c0c0"/>
<rect x="475" y="675" width="1" height="30" fill="#c0c0c0"/>
<rect x="483" y="675" width="1" height="31" fill="#c0c0c0"/>
<rect x="491" y="675" width="1" height="31" fill="#c0c0c0"/>
<rect x="499" y="675" width="1" height="35" fill="#c0c0c0"/>
<rect x="507" y="675" width="1" height="39" fill="#c0c0c0"/>
<rect x="515" y="675" width="1" height="41" fill="#c0c0c0"/>
<rect x="523" y="675" width="1" height="41" fill="#c0c0c0"/>
<rect x="531" y="675" width="1" height="37" fill="#c0c0c0"/>
<rect x="539" y="675" width="1" height="35" fill="#c0c0c0"/>
<rect x="547" y="675" width="1" height="39" fill="#c0c0c0"/>
<rect x="555" y="675" width="1" height="42" fill="#c0c0c0"/>
<rect x="563" y="675" width="1" height="46" fill="#c0c0c0"/>
<rect x="571" y="675" width="1" height="54" fill="#c0c0c0"/>
<rect x="579" y="675" width="1" height="59" fill="#c0c0c0"/>
<rect x="587" y="675" width="1" height="65" fill="#c0c0c0"/>
<rect x="595" y="675" width="1" height="63" fill="#c0c0c0"/>
<rect x="603" y="675" width="1" height="59" fill="#c0c0c0"/>
<rect x="611" y="675" width="1" height="57" fill="#c0c0c0"/>
<rect x="619" y="675" width="1" height="51" fill="#c0c0c0"/>
<rect x="627" y="675" width="1" height="47" fill="#c0c0c0"/>
<rect x="635" y="675" width="1" height="44" fill="#c0c0c0"/>
<rect x="643" y="675" width="1" height="46" fill="#c0c0c0"/>
<rect x="651" y="675" width="1" height="47" fill="#c0c0c0"/>
<rect x="659" y="675" width="1" height="49" fill="#c0c0c0"/>
<rect x="667" y="675" width="1" height="48" fill="#c0c0c0"/>
<rect x="675" y="675" width="1" height="46" fill="#c0c0c0"/>
<rect x="683" y="675" width="1" height="42" fill="#c0c0c0"/>
<rect x="691" y="675" width="1" height="37" fill="#c0c0c0"/>
<rect x="699" y="675" width="1" height="37" fill="#c0c0c0"/>
<rect x="707" y="675" width="1" height="37" fill="#c0c0c0"/>
<rect x="715" y="675" width="1" height="37" fill="#c0c0c0"/>
<rect x="723" y="675" width="1" height="31" fill="#c0c0c0"/>
<rect x="731" y="675" width="1" height="23" fill="#c0c0c0"/>
<rect x="739" y="675" width="1" height="13" fill="#c0c0c0"/>
<rect x="747" y="675" width="1" height="3" fill="#c0c0c0"/>
<rect x="763" y="669" width="1" height="7" fill="#c0c0c0"/>
<rect x="771" y="669" width="1" height="7" fill="#c0c0c0"/>
<rect x="779" y="674" width="1" height="2" fill="#c0c0c0"/>
<rect x="795" y="675" width="1" height="3" fill="#c0c0c0"/>
<rect x="803" y="675" width="1" height="3" fill="#c0c0c0"/>
<rect x="811" y="675" width="1" height="1" fill="#c0c0c0"/>
<rect x="819" y="675" width="1" height="3" fill="#c0c0c0"/>
<rect x="827" y="675" width="1" height="5" fill="#c0c0c0"/>
<rect x="835" y="675" width="1" height="1" fill="#c0c0c0"/>
<rect x="843" y="673" width="1" height="3" fill="#c0c0c0"/>
<rect x="851" y="672" width="1" height="4" fill="#c0c0c0"/>
<rect x="859" y="668" width="1" height="8" fill="#c0c0c0"/>
<rect x="867" y="669" width="1" height="7" fill="#c0c0c0"/>
<rect x="875" y="675" width="1" height="1" fill="#c0c0c0"/>
<rect x="883" y="675" width="1" height="5" fill="#c0c0c0"/>
<rect x="891" y="675" width="1" height="8" fill="#c0c0c0"/>
<rect x="899" y="675" width="1" height="11" fill="#c0c0c0"/>
<rect x="907" y="675" width="1" height="13" fill="#c0c0c0"/>
<rect x="915" y="675" width="1" height="14" fill="#c0c0c0"/>
<rect x="923" y="675" width="1" height="18" fill="#c0c0c0"/>
<rect x="931" y="675" width="1" height="29" fill="#c0c0c0"/>
<rect x="939" y="675" width="1" height="38" fill="#c0c0c0"/>
<rect x="947" y="675" width="1" height="46" fill="#c0c0c0"/>
<rect x="955" y="675" width="1" height="47" fill="#c0c0c0"/>
<rect x="963" y="675" width="1" height="46" fill="#c0c0c0"/>
<rect x="971" y="675" width="1" height="47" fill="#c0c0c0"/>
<rect x="979" y="675" width="1" height="41" fill="#c0c0c0"/>
<rect x="987" y="675" width="1" height="36" fill="#c0c0c0"/>
<rect x="995" y="675" width="1" height="32" fill="#c0c0c0"/>
<rect x="1003" y="675" width="1" height="30" fill="#c0c0c0"/>
<rect x="1011" y="675" width="1" height="30" fill="#c0c0c0"/>
<rect x="1019" y="675" width="1" height="20" fill="#c0c0c0"/>
<rect x="1027" y="675" width="1" height="10" fill="#c0c0c0"/>
<rect x="1035" y="675" width="1" height="3" fill="#c0c0c0"/>
<rect x="1043" y="672" width="1" height="4" fill="#c0c0c0"/>
<rect x="1051" y="669" width="1" height="7" fill="#c0c0c0"/>
<rect x="1059" y="666" width="1" height="10" fill="#c0c0c0"/>
<rect x="1067" y="659" width="1" height="17" fill="#c0c0c0"/>
<rect x="1075" y="655" width="1" height="21" fill="#c0c0c0"/>
<rect x="1083" y="651" width="1" height="25" fill="#c0c0c0"/>
<rect x="1091" y="648" width="1" height="28" fill="#c0c0c0"/>
<rect x="1099" y="650" width="1" height="26" fill="#c0c0c0"/>
<rect x="1107" y="652" width="1" height="24" fill="#c0c0c0"/>
<rect x="1115" y="652" width="1" height="24" fill="#c0c0c0"/>
<rect x="1123" y="649" width="1" height="27" fill="#c0c0c0"/>
<rect x="1131" y="648" width="1" height="28" fill="#c0c0c0"/>
<rect x="1139" y="648" width="1" height="28" fill="#c0c0c0"/>
<rect x="1147" y="652" width="1" height="24" fill="#c0c0c0"/>
<rect x="1155" y="662" width="1" height="14" fill="#c0c0c0"/>
<rect x="1163" y="668" width="1" height="8" fill="#c0c0c0"/>
<rect x="1171" y="670" width="1" height="6" fill="#c0c0c0"/>
<rect x="1179" y="668" width="1" height="8" fill="#c0c0c0"/>
<rect x="1187" y="666" width="1" height="10" fill="#c0c0c0"/>
<rect x="1195" y="664" width="1" height="12" fill="#c0c0c0"/>
<rect x="1203" y="660" width="1" height="16" fill="#c0c0c0"/>
<rect x="1211" y="656" width="1" height="20" fill="#c0c0c0"/>
<rect x="1219" y="650" width="1" height="26" fill="#c0c0c0"/>
<rect x="1227" y="647" width="1" height="29" fill="#c0c0c0"/>
<rect x="1235" y="644" width="1" height="32" fill="#c0c0c0"/>
<rect x="1243" y="644" width="1" height="32" fill="#c0c0c0"/>
<rect x="1251" y="647" width="1" height="29" fill="#c0c0c0"/>
<rect x="1259" y="647" width="1" height="29" fill="#c0c0c0"/>
<rect x="1267" y="648" width="1" height="28" fill="#c0c0c0"/>
<rect x="1275" y="648" width="1" height="28" fill="#c0c0c0"/>
<rect x="1283" y="650" width="1" height="26" fill="#c0c0c0"/>
<rect x="1291" y="648" width="1" height="28" fill="#c0c0c0"/>
<rect x="1299" y="643" width="1" height="33" fill="#c0c0c0"/>
<rect x="1307" y="639" width="1" height="37" fill="#c0c0c0"/>
<rect x="1315" y="632" width="1" height="44" fill="#c0c0c0"/>
<rect x="1323" y="631" width="1" height="45" fill="#c0c0c0"/>
<rect x="1331" y="631" width="1" height="45" fill="#c0c0c0"/>
<rect x="1339" y="632" width="1" height="44" fill="#c0c0c0"/>
<rect x="1347" y="631" width="1" height="45" fill="#c0c0c0"/>
<rect x="1355" y="625" width="1" height="51" fill="#c0c0c0"/>
<rect x="1363" y="625" width="1" height="51" fill="#c0c0c0"/>
<rect x="1371" y="627" width="1" height="49" fill="#c0c0c0"/>
<rect x="1379" y="629" width="1" height="47" fill="#c0c0c0"/>
</g>
<polyline points="0.0,625.6 12.4,620.7 24.8,615.7 37.2,611.5 49.6,608.3 62.0,603.8 74.4,600.1 86.8,595.8 99.2,594.4 116.6,593.4 134.0,595.4 148.8,600.8 161.3,608.3 173.7,618.2 186.1,626.9 198.5,638.0 210.9,649.2 223.3,660.3 235.7,669.0 248.1,676.5 260.5,682.7 272.9,687.1 285.3,688.4 297.7,687.6 310.1,685.7 322.5,685.2 334.9,685.2 347.3,686.4 359.7,686.4 372.1,689.4 384.5,690.9 396.9,692.6 409.3,694.6 420.0,697.6 427.4,699.5 444.8,704.3 452.3,707.0 469.6,708.7 494.4,709.5 519.2,710.0 539.1,710.5 554.0,712.4 568.8,714.9 578.8,718.6 593.7,724.4 606.1,728.6 618.5,731.0 635.8,731.0 655.7,728.1 668.1,724.8 683.0,722.4 690.4,719.9 712.7,718.1 725.1,714.9 740.0,708.7 754.9,699.3 769.8,690.1 784.7,682.2 792.1,679.0 807.0,676.0 821.9,674.5 840.0,677.7 854.9,675.2 877.2,673.5 889.6,675.2 902.0,675.7 914.4,678.2 929.3,683.9 939.2,690.6 949.2,697.6 964.0,704.5 978.9,711.9 988.8,714.4 1001.3,716.2 1013.7,714.4 1026.1,708.7 1038.5,701.3 1050.9,693.1 1063.3,685.2 1075.7,675.2 1088.1,666.5 1100.5,659.9 1115.4,655.9 1125.3,651.7 1137.7,649.9 1150.1,649.7 1162.5,652.4 1174.9,655.9 1187.3,658.4 1200.0,661.1 1217.4,662.3 1227.3,659.9 1237.2,655.9 1249.6,652.4 1274.4,648.7 1299.2,644.5 1324.0,640.0 1348.8,635.0 1371.2,628.1" fill="none" stroke="#ff0000" stroke-width="1" stroke-dasharray="3,3"/>
<line x1="1252.1" y1="652.4" x2="1376.6" y2="632.9" stroke="#ff0000" stroke-width="3.4" stroke-linecap="round"/>
<polygon points="1385.5,631.5 1374.5,638.8 1376.6,632.9 1372.8,627.9" fill="#ff0000"/>
<g shape-rendering="crispEdges">
<line x1="0" y1="786.5" x2="1646" y2="786.5" stroke="#c0c0c0" stroke-width="1" stroke-dasharray="3,3"/>
<line x1="0" y1="837.5" x2="1646" y2="837.5" stroke="#c0c0c0" stroke-width="1" stroke-dasharray="3,3"/>
<line x1="0" y1="898.5" x2="1646" y2="898.5" stroke="#c0c0c0" stroke-width="1" stroke-dasharray="3,3"/>
</g>
<polyline points="-4.5,798.4 3.5,794.2 11.5,792.9 19.5,789.2 27.5,789.2 35.5,794.7 43.5,793.4 51.5,784.7 59.5,783.0 67.5,781.8 75.5,778.0 83.5,794.2 91.5,799.6 99.5,804.1 107.5,801.4 115.5,805.1 123.5,805.1 131.5,805.1 139.5,802.8 147.5,818.2 155.5,841.8 163.5,843.5 171.5,848.5 179.5,847.2 187.5,845.0 195.5,859.9 203.5,849.7 211.5,854.2 219.5,854.2 227.5,858.4 235.5,862.1 243.5,844.8 251.5,839.3 259.5,841.3 267.5,849.2 275.5,849.2 283.5,837.6 291.5,827.4 299.5,827.4 307.5,848.7 315.5,850.5 323.5,849.2 331.5,855.4 339.5,852.2 347.5,856.2 355.5,841.3 363.5,844.3 371.5,844.3 379.5,852.5 387.5,854.2 395.5,864.9 403.5,861.1 411.5,868.6 419.5,870.8 427.5,865.4 435.5,865.4 443.5,867.3 451.5,861.1 459.5,851.2 467.5,843.5 475.5,855.4 483.5,861.1 491.5,855.4 499.5,872.3 507.5,865.4 515.5,866.6 523.5,863.4 531.5,845.5 539.5,850.0 547.5,865.4 555.5,867.3 563.5,870.8 571.5,880.2 579.5,876.0 587.5,880.2 595.5,863.6 603.5,853.0 611.5,854.2 619.5,849.7 627.5,848.5 635.5,851.7 643.5,862.4 651.5,864.1 659.5,866.1 667.5,858.4 675.5,856.2 683.5,850.5 691.5,842.5 699.5,853.0 707.5,857.4 715.5,853.0 723.5,836.8 731.5,828.9 739.5,821.2 747.5,818.2 755.5,822.4 763.5,821.2 771.5,834.3 779.5,849.2 787.5,845.0 795.5,845.0 803.5,840.5 811.5,833.6 819.5,841.8 827.5,846.0 835.5,830.6 843.5,827.6 851.5,833.1 859.5,825.2 867.5,836.8 875.5,846.3 883.5,853.0 891.5,851.2 899.5,849.2 907.5,846.3 915.5,846.3 923.5,854.2 931.5,869.1 939.5,873.3 947.5,870.3 955.5,855.4 963.5,852.2 971.5,857.9 979.5,841.3 987.5,842.3 995.5,840.5 1003.5,845.5 1011.5,851.0 1019.5,826.9 1027.5,823.2 1035.5,825.2 1043.5,822.4 1051.5,828.1 1059.5,827.4 1067.5,818.2 1075.5,821.2 1083.5,819.5 1091.5,819.5 1099.5,831.1 1107.5,831.1 1115.5,826.4 1123.5,819.5 1131.5,823.9 1139.5,823.9 1147.5,836.8 1155.5,852.2 1163.5,846.8 1171.5,840.5 1179.5,831.9 1187.5,828.6 1195.5,826.9 1203.5,823.2 1211.5,818.7 1219.5,812.8 1227.5,817.0 1235.5,816.2 1243.5,823.2 1251.5,830.1 1259.5,825.2 1267.5,823.2 1275.5,821.4 1283.5,833.1 1291.5,823.2 1299.5,812.0 1307.5,812.0 1315.5,804.1 1323.5,818.2 1331.5,818.2 1339.5,824.4 1347.5,817.0 1355.5,807.6 1363.5,818.2 1371.5,823.9 1379.5,828.6" fill="none" stroke="#1e90ff" stroke-width="1" />
<line x1="1287.3" y1="817.0" x2="1381.0" y2="816.5" stroke="#ff0000" stroke-width="3.2" stroke-linecap="round"/>
<polygon points="1390.0,816.5 1378.0,822.1 1381.0,816.5 1378.0,811.1" fill="#ff0000"/>
<g shape-rendering="crispEdges">
<rect x="0" y="23" width="1647" height="1" fill="#000" />
<rect x="1646" y="23" width="1" height="902" fill="#000"/>
<rect x="0" y="576" width="1647" height="1" fill="#000" />
<rect x="0" y="578" width="1647" height="1" fill="#000" />
<rect x="0" y="577" width="1646" height="1" fill="#fff" />
<rect x="0" y="748" width="1647" height="1" fill="#000" />
<rect x="0" y="750" width="1647" height="1" fill="#000" />
<rect x="0" y="749" width="1646" height="1" fill="#fff" />
<rect x="0" y="924" width="1647" height="1" fill="#000" />
<rect x="1692" y="20" width="1" height="921" fill="#e4e4e4"/>
<rect x="1647" y="45" width="2" height="1" fill="#000" />
<rect x="1647" y="78" width="2" height="1" fill="#000" />
<rect x="1647" y="111" width="2" height="1" fill="#000" />
<rect x="1647" y="144" width="2" height="1" fill="#000" />
<rect x="1647" y="177" width="2" height="1" fill="#000" />
<rect x="1647" y="342" width="2" height="1" fill="#000" />
<rect x="1647" y="375" width="2" height="1" fill="#000" />
<rect x="1647" y="408" width="2" height="1" fill="#000" />
<rect x="1647" y="441" width="2" height="1" fill="#000" />
<rect x="1647" y="474" width="2" height="1" fill="#000" />
<rect x="1647" y="507" width="2" height="1" fill="#000" />
<rect x="1647" y="540" width="2" height="1" fill="#000" />
<rect x="1647" y="573" width="2" height="1" fill="#000" />
<rect x="1647" y="579" width="1" height="1" fill="#000" />
<rect x="1647" y="675" width="2" height="1" fill="#000" />
<rect x="1647" y="747" width="1" height="1" fill="#000" />
<rect x="1647" y="751" width="1" height="1" fill="#000" />
<rect x="1647" y="786" width="2" height="1" fill="#000" />
<rect x="1647" y="837" width="2" height="1" fill="#000" />
<rect x="1647" y="898" width="2" height="1" fill="#000" />
<rect x="51" y="925" width="1" height="3" fill="#000"/>
<rect x="115" y="925" width="1" height="3" fill="#000"/>
<rect x="179" y="925" width="1" height="3" fill="#000"/>
<rect x="243" y="925" width="1" height="3" fill="#000"/>
<rect x="307" y="925" width="1" height="3" fill="#000"/>
<rect x="371" y="925" width="1" height="3" fill="#000"/>
<rect x="435" y="925" width="1" height="3" fill="#000"/>
<rect x="499" y="925" width="1" height="3" fill="#000"/>
<rect x="563" y="925" width="1" height="3" fill="#000"/>
<rect x="627" y="925" width="1" height="3" fill="#000"/>
<rect x="691" y="925" width="1" height="3" fill="#000"/>
<rect x="755" y="925" width="1" height="3" fill="#000"/>
<rect x="819" y="925" width="1" height="3" fill="#000"/>
<rect x="883" y="925" width="1" height="3" fill="#000"/>
<rect x="947" y="925" width="1" height="3" fill="#000"/>
<rect x="1011" y="925" width="1" height="3" fill="#000"/>
<rect x="1075" y="925" width="1" height="3" fill="#000"/>
<rect x="1139" y="925" width="1" height="3" fill="#000"/>
<rect x="1203" y="925" width="1" height="3" fill="#000"/>
<rect x="1267" y="925" width="1" height="3" fill="#000"/>
<rect x="1331" y="925" width="1" height="3" fill="#000"/>
</g>
<text x="1652" y="48.3" font-size="9.2" fill="#000" text-anchor="start" font-weight="normal" textLength="33" lengthAdjust="spacingAndGlyphs" stroke="#000" stroke-width="0.22">0.74805</text>
<text x="1652" y="81.3" font-size="9.2" fill="#000" text-anchor="start" font-weight="normal" textLength="33" lengthAdjust="spacingAndGlyphs" stroke="#000" stroke-width="0.22">0.74605</text>
<text x="1652" y="114.3" font-size="9.2" fill="#000" text-anchor="start" font-weight="normal" textLength="33" lengthAdjust="spacingAndGlyphs" stroke="#000" stroke-width="0.22">0.74410</text>
<text x="1652" y="147.3" font-size="9.2" fill="#000" text-anchor="start" font-weight="normal" textLength="33" lengthAdjust="spacingAndGlyphs" stroke="#000" stroke-width="0.22">0.74210</text>
<text x="1652" y="180.3" font-size="9.2" fill="#000" text-anchor="start" font-weight="normal" textLength="33" lengthAdjust="spacingAndGlyphs" stroke="#000" stroke-width="0.22">0.74010</text>
<text x="1652" y="345.3" font-size="9.2" fill="#000" text-anchor="start" font-weight="normal" textLength="33" lengthAdjust="spacingAndGlyphs" stroke="#000" stroke-width="0.22">0.73015</text>
<text x="1652" y="378.3" font-size="9.2" fill="#000" text-anchor="start" font-weight="normal" textLength="33" lengthAdjust="spacingAndGlyphs" stroke="#000" stroke-width="0.22">0.72820</text>
<text x="1652" y="411.3" font-size="9.2" fill="#000" text-anchor="start" font-weight="normal" textLength="33" lengthAdjust="spacingAndGlyphs" stroke="#000" stroke-width="0.22">0.72620</text>
<text x="1652" y="444.3" font-size="9.2" fill="#000" text-anchor="start" font-weight="normal" textLength="33" lengthAdjust="spacingAndGlyphs" stroke="#000" stroke-width="0.22">0.72420</text>
<text x="1652" y="477.3" font-size="9.2" fill="#000" text-anchor="start" font-weight="normal" textLength="33" lengthAdjust="spacingAndGlyphs" stroke="#000" stroke-width="0.22">0.72220</text>
<text x="1652" y="510.3" font-size="9.2" fill="#000" text-anchor="start" font-weight="normal" textLength="33" lengthAdjust="spacingAndGlyphs" stroke="#000" stroke-width="0.22">0.72020</text>
<text x="1652" y="543.3" font-size="9.2" fill="#000" text-anchor="start" font-weight="normal" textLength="33" lengthAdjust="spacingAndGlyphs" stroke="#000" stroke-width="0.22">0.71825</text>
<text x="1652" y="576.3" font-size="9.2" fill="#000" text-anchor="start" font-weight="normal" textLength="33" lengthAdjust="spacingAndGlyphs" stroke="#000" stroke-width="0.22">0.71625</text>
<rect x="1648" y="205" width="41" height="11" fill="#ff0000" shape-rendering="crispEdges"/>
<text x="1652" y="213.8" font-size="9.2" fill="#fff" text-anchor="start" font-weight="normal" textLength="33" lengthAdjust="spacingAndGlyphs">0.73805</text>
<rect x="1648" y="238" width="41" height="11" fill="#ff0000" shape-rendering="crispEdges"/>
<text x="1652" y="246.8" font-size="9.2" fill="#fff" text-anchor="start" font-weight="normal" textLength="33" lengthAdjust="spacingAndGlyphs">0.73607</text>
<rect x="1648" y="280" width="41" height="11" fill="#ffa500" shape-rendering="crispEdges"/>
<text x="1652" y="288.8" font-size="9.2" fill="#fff" text-anchor="start" font-weight="normal" textLength="33" lengthAdjust="spacingAndGlyphs">0.73354</text>
<rect x="1648" y="268" width="41" height="11" fill="#000000" shape-rendering="crispEdges"/>
<text x="1652" y="276.8" font-size="9.2" fill="#fff" text-anchor="start" font-weight="normal" textLength="33" lengthAdjust="spacingAndGlyphs">0.73433</text>
<rect x="1648" y="305" width="41" height="11" fill="#0000ff" shape-rendering="crispEdges"/>
<text x="1652" y="313.8" font-size="9.2" fill="#fff" text-anchor="start" font-weight="normal" textLength="33" lengthAdjust="spacingAndGlyphs">0.73204</text>
<rect x="1648" y="331" width="41" height="11" fill="#0000ff" shape-rendering="crispEdges"/>
<text x="1652" y="339.8" font-size="9.2" fill="#fff" text-anchor="start" font-weight="normal" textLength="33" lengthAdjust="spacingAndGlyphs">0.73047</text>
<text x="1650" y="588.7" font-size="9.2" fill="#000" text-anchor="start" font-weight="normal" textLength="38" lengthAdjust="spacingAndGlyphs" stroke="#000" stroke-width="0.22">0.004124</text>
<text x="1650.5" y="678.6" font-size="9.2" fill="#000" text-anchor="start" font-weight="normal" textLength="18" lengthAdjust="spacingAndGlyphs" stroke="#000" stroke-width="0.22">0.00</text>
<text x="1650" y="745" font-size="9.2" fill="#000" text-anchor="start" font-weight="normal" textLength="41" lengthAdjust="spacingAndGlyphs" stroke="#000" stroke-width="0.22">-0.003097</text>
<text x="1650" y="761" font-size="9.2" fill="#000" text-anchor="start" font-weight="normal" textLength="15" lengthAdjust="spacingAndGlyphs" stroke="#000" stroke-width="0.22">100</text>
<text x="1650" y="789.8" font-size="9.2" fill="#000" text-anchor="start" font-weight="normal" textLength="10" lengthAdjust="spacingAndGlyphs" stroke="#000" stroke-width="0.22">80</text>
<text x="1650" y="840.8" font-size="9.2" fill="#000" text-anchor="start" font-weight="normal" textLength="10" lengthAdjust="spacingAndGlyphs" stroke="#000" stroke-width="0.22">50</text>
<text x="1650" y="901.8" font-size="9.2" fill="#000" text-anchor="start" font-weight="normal" textLength="10" lengthAdjust="spacingAndGlyphs" stroke="#000" stroke-width="0.22">15</text>
<text x="1650" y="921" font-size="9.2" fill="#000" text-anchor="start" font-weight="normal" textLength="5" lengthAdjust="spacingAndGlyphs" stroke="#000" stroke-width="0.22">0</text>
<text x="-13.5" y="937.3" font-size="9.2" fill="#000" text-anchor="start" font-weight="normal" textLength="45" lengthAdjust="spacingAndGlyphs" stroke="#000" stroke-width="0.22">1 Sep 2021</text>
<text x="50.5" y="937.3" font-size="9.2" fill="#000" text-anchor="start" font-weight="normal" textLength="49" lengthAdjust="spacingAndGlyphs" stroke="#000" stroke-width="0.22">3 Sep 04:00</text>
<text x="114.5" y="937.3" font-size="9.2" fill="#000" text-anchor="start" font-weight="normal" textLength="49" lengthAdjust="spacingAndGlyphs" stroke="#000" stroke-width="0.22">6 Sep 12:00</text>
<text x="178.5" y="937.3" font-size="9.2" fill="#000" text-anchor="start" font-weight="normal" textLength="49" lengthAdjust="spacingAndGlyphs" stroke="#000" stroke-width="0.22">7 Sep 20:00</text>
<text x="242.5" y="937.3" font-size="9.2" fill="#000" text-anchor="start" font-weight="normal" textLength="49" lengthAdjust="spacingAndGlyphs" stroke="#000" stroke-width="0.22">9 Sep 04:00</text>
<text x="306.5" y="937.3" font-size="9.2" fill="#000" text-anchor="start" font-weight="normal" textLength="54" lengthAdjust="spacingAndGlyphs" stroke="#000" stroke-width="0.22">10 Sep 12:00</text>
<text x="370.5" y="937.3" font-size="9.2" fill="#000" text-anchor="start" font-weight="normal" textLength="54" lengthAdjust="spacingAndGlyphs" stroke="#000" stroke-width="0.22">13 Sep 20:00</text>
<text x="434.5" y="937.3" font-size="9.2" fill="#000" text-anchor="start" font-weight="normal" textLength="54" lengthAdjust="spacingAndGlyphs" stroke="#000" stroke-width="0.22">15 Sep 04:00</text>
<text x="498.5" y="937.3" font-size="9.2" fill="#000" text-anchor="start" font-weight="normal" textLength="54" lengthAdjust="spacingAndGlyphs" stroke="#000" stroke-width="0.22">16 Sep 12:00</text>
<text x="562.5" y="937.3" font-size="9.2" fill="#000" text-anchor="start" font-weight="normal" textLength="54" lengthAdjust="spacingAndGlyphs" stroke="#000" stroke-width="0.22">19 Sep 23:00</text>
<text x="626.5" y="937.3" font-size="9.2" fill="#000" text-anchor="start" font-weight="normal" textLength="54" lengthAdjust="spacingAndGlyphs" stroke="#000" stroke-width="0.22">21 Sep 04:00</text>
<text x="690.5" y="937.3" font-size="9.2" fill="#000" text-anchor="start" font-weight="normal" textLength="54" lengthAdjust="spacingAndGlyphs" stroke="#000" stroke-width="0.22">22 Sep 12:00</text>
<text x="754.5" y="937.3" font-size="9.2" fill="#000" text-anchor="start" font-weight="normal" textLength="54" lengthAdjust="spacingAndGlyphs" stroke="#000" stroke-width="0.22">23 Sep 20:00</text>
<text x="818.5" y="937.3" font-size="9.2" fill="#000" text-anchor="start" font-weight="normal" textLength="54" lengthAdjust="spacingAndGlyphs" stroke="#000" stroke-width="0.22">27 Sep 04:00</text>
<text x="882.5" y="937.3" font-size="9.2" fill="#000" text-anchor="start" font-weight="normal" textLength="54" lengthAdjust="spacingAndGlyphs" stroke="#000" stroke-width="0.22">28 Sep 12:00</text>
<text x="946.5" y="937.3" font-size="9.2" fill="#000" text-anchor="start" font-weight="normal" textLength="54" lengthAdjust="spacingAndGlyphs" stroke="#000" stroke-width="0.22">29 Sep 20:00</text>
<text x="1010.5" y="937.3" font-size="9.2" fill="#000" text-anchor="start" font-weight="normal" textLength="49" lengthAdjust="spacingAndGlyphs" stroke="#000" stroke-width="0.22">1 Oct 04:00</text>
<text x="1074.5" y="937.3" font-size="9.2" fill="#000" text-anchor="start" font-weight="normal" textLength="49" lengthAdjust="spacingAndGlyphs" stroke="#000" stroke-width="0.22">4 Oct 12:00</text>
<text x="1138.5" y="937.3" font-size="9.2" fill="#000" text-anchor="start" font-weight="normal" textLength="49" lengthAdjust="spacingAndGlyphs" stroke="#000" stroke-width="0.22">5 Oct 20:00</text>
<text x="1202.5" y="937.3" font-size="9.2" fill="#000" text-anchor="start" font-weight="normal" textLength="49" lengthAdjust="spacingAndGlyphs" stroke="#000" stroke-width="0.22">7 Oct 04:00</text>
<text x="1266.5" y="937.3" font-size="9.2" fill="#000" text-anchor="start" font-weight="normal" textLength="49" lengthAdjust="spacingAndGlyphs" stroke="#000" stroke-width="0.22">8 Oct 12:00</text>
<text x="1330.5" y="937.3" font-size="9.2" fill="#000" text-anchor="start" font-weight="normal" textLength="54" lengthAdjust="spacingAndGlyphs" stroke="#000" stroke-width="0.22">11 Oct 20:00</text>
<text x="3" y="35.3" font-size="9.2" fill="#000" text-anchor="start" font-weight="normal" textLength="58" lengthAdjust="spacingAndGlyphs" stroke="#000" stroke-width="0.22">AUDUSD-,H4</text>
<text x="67.3" y="35.3" font-size="9.2" fill="#000" text-anchor="start" font-weight="normal" textLength="140" lengthAdjust="spacingAndGlyphs" stroke="#000" stroke-width="0.22">0.73526 0.73527 0.73417 0.73433</text>
<text x="-8.5" y="590.8" font-size="9.2" fill="#000" text-anchor="start" font-weight="normal" textLength="147.5" lengthAdjust="spacingAndGlyphs" stroke="#000" stroke-width="0.22">MACD(12,26,9) 0.001943 0.002015</text>
<text x="-8" y="762.7" font-size="9.2" fill="#000" text-anchor="start" font-weight="normal" textLength="67" lengthAdjust="spacingAndGlyphs" stroke="#000" stroke-width="0.22">RSI(14) 55.0996</text>
<g shape-rendering="crispEdges">
<rect x="0" y="43" width="209" height="57" fill="#fff"/>
<rect x="0" y="43" width="42" height="25" fill="url(#gs)"/>
<rect x="157" y="43" width="52" height="25" fill="url(#gs)"/>
<rect x="0" y="67" width="99" height="33" fill="url(#gd)"/>
<rect x="101" y="67" width="108" height="33" fill="url(#gd)"/>
<rect x="42" y="66" width="115" height="2" fill="#fff"/>
<rect x="0" y="66" width="38" height="1" fill="#f89090"/>
<rect x="161" y="66" width="44" height="1" fill="#f89090"/>
<rect x="41" y="43" width="1" height="24" fill="#c00000"/>
<rect x="157" y="43" width="1" height="24" fill="#c00000"/>
<rect x="208" y="43" width="1" height="57" fill="#b00000"/>
<rect x="44.5" y="43.5" width="110" height="21" fill="#fff" stroke="#a8a8b0"/>
<rect x="46" y="45" width="18" height="18" fill="url(#gb)"/>
<rect x="135" y="45" width="18" height="18" fill="url(#gb)"/>
<rect x="64" y="44" width="1" height="20" fill="#b0b0b8"/>
<rect x="133" y="44" width="1" height="20" fill="#b0b0b8"/>
</g>
<polygon points="52,52 58,52 55,55.5" fill="#4858b8"/>
<polygon points="141,55 147,55 144,51.5" fill="#4858b8"/>
<text x="2.5" y="59" font-size="12.5" fill="#fff" text-anchor="start" font-weight="normal" textLength="25.5" lengthAdjust="spacingAndGlyphs">SELL</text>
<text x="171" y="59" font-size="12.5" fill="#fff" text-anchor="start" font-weight="normal" textLength="22" lengthAdjust="spacingAndGlyphs">BUY</text>
<text x="129.5" y="57.7" font-size="12.5" fill="#000" text-anchor="end" font-weight="normal" textLength="23" lengthAdjust="spacingAndGlyphs">1.00</text>
<text x="10" y="94.5" font-size="10.5" fill="#fff" text-anchor="start" font-weight="bold" textLength="23.5" lengthAdjust="spacingAndGlyphs">0.73</text>
<text x="120" y="94.5" font-size="10.5" fill="#fff" text-anchor="start" font-weight="bold" textLength="23.5" lengthAdjust="spacingAndGlyphs">0.73</text>
<text x="36.5" y="94.5" font-size="32.5" fill="#fff" text-anchor="start" font-weight="normal" textLength="34.5" lengthAdjust="spacingAndGlyphs">43</text>
<text x="149" y="94.5" font-size="32.5" fill="#fff" text-anchor="start" font-weight="normal" textLength="34" lengthAdjust="spacingAndGlyphs">53</text>
<text x="77.5" y="79" font-size="11.5" fill="#fff" text-anchor="start" font-weight="bold" >3</text>
<text x="188" y="79" font-size="11.5" fill="#fff" text-anchor="start" font-weight="bold" >0</text>
<g shape-rendering="crispEdges">
<rect x="0" y="0" width="1693" height="19" fill="#f0f0f0"/>
<rect x="0" y="19" width="1693" height="1" fill="#b4b4b4" />
<rect x="0" y="20" width="1693" height="1" fill="#6e6e6e" />
<rect x="283" y="0" width="23" height="17" fill="#f8f8f8"/>
<rect x="283" y="0" width="1" height="17" fill="#a0a0a0"/>
<rect x="433" y="0" width="24" height="17" fill="#f8f8f8"/>
<rect x="433" y="0" width="1" height="17" fill="#a0a0a0"/>
<rect x="622" y="0" width="24" height="17" fill="#f8f8f8"/>
<rect x="622" y="0" width="1" height="17" fill="#a0a0a0"/>
<rect x="1068" y="0" width="24" height="17" fill="#f8f8f8"/>
<rect x="1068" y="0" width="1" height="17" fill="#a0a0a0"/>
<rect x="7" y="0" width="1" height="17" fill="#a0a0a0"/>
<rect x="244" y="0" width="1" height="17" fill="#a0a0a0"/>
<rect x="339" y="0" width="1" height="17" fill="#a0a0a0"/>
<rect x="428" y="0" width="1" height="17" fill="#a0a0a0"/>
<rect x="461" y="0" width="1" height="17" fill="#a0a0a0"/>
<rect x="490" y="0" width="1" height="17" fill="#a0a0a0"/>
<rect x="678" y="0" width="1" height="17" fill="#a0a0a0"/>
<rect x="917" y="0" width="1" height="17" fill="#a0a0a0"/>
<rect x="1179" y="0" width="1" height="17" fill="#a0a0a0"/>
<rect x="247" y="1" width="3" height="1" fill="#a8a8a8"/>
<rect x="247" y="3" width="3" height="1" fill="#a8a8a8"/>
<rect x="247" y="5" width="3" height="1" fill="#a8a8a8"/>
<rect x="247" y="7" width="3" height="1" fill="#a8a8a8"/>
<rect x="247" y="9" width="3" height="1" fill="#a8a8a8"/>
<rect x="247" y="11" width="3" height="1" fill="#a8a8a8"/>
<rect x="247" y="13" width="3" height="1" fill="#a8a8a8"/>
<rect x="247" y="15" width="3" height="1" fill="#a8a8a8"/>
<rect x="616" y="1" width="3" height="1" fill="#a8a8a8"/>
<rect x="616" y="3" width="3" height="1" fill="#a8a8a8"/>
<rect x="616" y="5" width="3" height="1" fill="#a8a8a8"/>
<rect x="616" y="7" width="3" height="1" fill="#a8a8a8"/>
<rect x="616" y="9" width="3" height="1" fill="#a8a8a8"/>
<rect x="616" y="11" width="3" height="1" fill="#a8a8a8"/>
<rect x="616" y="13" width="3" height="1" fill="#a8a8a8"/>
<rect x="616" y="15" width="3" height="1" fill="#a8a8a8"/>
<rect x="921" y="1" width="3" height="1" fill="#a8a8a8"/>
<rect x="921" y="3" width="3" height="1" fill="#a8a8a8"/>
<rect x="921" y="5" width="3" height="1" fill="#a8a8a8"/>
<rect x="921" y="7" width="3" height="1" fill="#a8a8a8"/>
<rect x="921" y="9" width="3" height="1" fill="#a8a8a8"/>
<rect x="921" y="11" width="3" height="1" fill="#a8a8a8"/>
<rect x="921" y="13" width="3" height="1" fill="#a8a8a8"/>
<rect x="921" y="15" width="3" height="1" fill="#a8a8a8"/>
</g>
<path d="M18.5,-1 h6 l3,3 v10 h-9 z" fill="#fff" stroke="#888" stroke-width="1"/>
<g shape-rendering="crispEdges"><rect x="20" y="2" width="4" height="1" fill="#999"/><rect x="20" y="5" width="5" height="1" fill="#999"/><rect x="20" y="8" width="3" height="1" fill="#999"/></g>
<path d="M26,5 h4 v4 h4 v4 h-4 v4 h-4 v-4 h-4 v-4 h4 z" fill="url(#grn)" stroke="#0a8a0a" stroke-width="0.8"/>
<text x="36" y="10.2" font-size="12" fill="#000" text-anchor="start" font-weight="normal" >新订单</text>
<path d="M89,-1 L100,7 L93,14 L83,9 Z" fill="url(#gold)" stroke="#a06800" stroke-width="0.8"/><path d="M84,10 L93,15 L100,8" fill="none" stroke="#c89020" stroke-width="1.2"/>
<rect x="115" y="-1" width="11" height="9" fill="url(#blu)" stroke="#2060b0" stroke-width="0.8"/><rect x="118" y="2" width="6" height="1.5" fill="#d8ecff"/>
<path d="M114,14.5 a3,3 0 0 1 0.5,-6 a4,4 0 0 1 7.5,-1 a3.5,3.5 0 0 1 4,7 z" fill="#e4ecf8" stroke="#8098c0" stroke-width="0.9"/>
<circle cx="148" cy="7.5" r="7.5" fill="none" stroke="#78a8e0" stroke-width="1.4"/><circle cx="148" cy="7.5" r="4.5" fill="none" stroke="#4888d0" stroke-width="1.4"/><path d="M148,7 v9 a8,8 0 0 0 6,-5 z" fill="#38b038"/><circle cx="148" cy="7.5" r="1.8" fill="#2868c0"/>
<ellipse cx="175" cy="9" rx="7.5" ry="6" fill="#f0c840" stroke="#c09010" stroke-width="0.8"/><path d="M167,5 q8,-3 17,0 l-3,-6 h-10 z" fill="#58a0e0" stroke="#3070c0" stroke-width="0.7"/><circle cx="179.5" cy="11" r="4.3" fill="#e02818"/><rect x="177.8" y="9.3" width="3.4" height="3.4" fill="#fff"/>
<text x="188" y="10.2" font-size="12" fill="#000" text-anchor="start" font-weight="normal" >自动交易</text>
<g shape-rendering="crispEdges"><rect x="261" y="0" width="1" height="15" fill="#505050"/><rect x="259" y="12" width="14" height="1" fill="#505050"/></g>
<polygon points="259.8,2.5 261.5,-0.5 263.2,2.5" fill="#505050"/><polygon points="270.5,10.8 273.5,12.5 270.5,14.2" fill="#505050"/>
<g shape-rendering="crispEdges"><rect x="266" y="2" width="1" height="9" fill="#20a020"/><rect x="263" y="8" width="3" height="1" fill="#20a020"/><rect x="267" y="3" width="3" height="1" fill="#20a020"/></g>
<g shape-rendering="crispEdges"><rect x="290" y="0" width="1" height="15" fill="#505050"/><rect x="288" y="12" width="14" height="1" fill="#505050"/></g>
<polygon points="288.8,2.5 290.5,-0.5 292.2,2.5" fill="#505050"/><polygon points="299.5,10.8 302.5,12.5 299.5,14.2" fill="#505050"/>
<g shape-rendering="crispEdges"><rect x="296" y="-1" width="1" height="12" fill="#208020"/><rect x="294" y="1" width="5" height="7" fill="#30c030" stroke="#208020" stroke-width="1"/></g>
<g shape-rendering="crispEdges"><rect x="317" y="0" width="1" height="15" fill="#505050"/><rect x="315" y="12" width="14" height="1" fill="#505050"/></g>
<polygon points="315.8,2.5 317.5,-0.5 319.2,2.5" fill="#505050"/><polygon points="326.5,10.8 329.5,12.5 326.5,14.2" fill="#505050"/>
<path d="M317,9 q4,-10 8,-5 t5,3" fill="none" stroke="#20a020" stroke-width="1.2"/>
<line x1="356" y1="9" x2="362" y2="15" stroke="#d8a020" stroke-width="3" stroke-linecap="round"/>
<circle cx="352" cy="5" r="5.5" fill="#d8ecff" stroke="#3878d0" stroke-width="1.6"/>
<rect x="349" y="4.2" width="6" height="1.6" fill="#2868c8"/>
<rect x="351.2" y="2" width="1.6" height="6" fill="#2868c8"/>
<line x1="385" y1="9" x2="391" y2="15" stroke="#d8a020" stroke-width="3" stroke-linecap="round"/>
<circle cx="381" cy="5" r="5.5" fill="#d8ecff" stroke="#3878d0" stroke-width="1.6"/>
<rect x="378" y="4.2" width="6" height="1.6" fill="#2868c8"/>
<g shape-rendering="crispEdges"><rect x="403" y="-1" width="7" height="7" fill="#58b838"/><rect x="411" y="-1" width="8" height="7" fill="#3878d8"/><rect x="403" y="7" width="7" height="7" fill="#3878d8"/><rect x="411" y="7" width="8" height="7" fill="#58b838"/><rect x="404" y="2" width="4" height="2" fill="#fff" opacity="0.8"/><rect x="413" y="2" width="4" height="2" fill="#fff" opacity="0.8"/><rect x="404" y="10" width="4" height="2" fill="#fff" opacity="0.8"/><rect x="413" y="10" width="4" height="2" fill="#fff" opacity="0.8"/></g>
<g shape-rendering="crispEdges"><rect x="441" y="0" width="1" height="15" fill="#505050"/><rect x="439" y="12" width="14" height="1" fill="#505050"/></g>
<polygon points="439.8,2.5 441.5,-0.5 443.2,2.5" fill="#505050"/><polygon points="450.5,10.8 453.5,12.5 450.5,14.2" fill="#505050"/>
<polygon points="446,3 446,10 451,6.5" fill="#30b030" stroke="#208020" stroke-width="0.6"/>
<g shape-rendering="crispEdges"><rect x="469" y="0" width="1" height="15" fill="#505050"/><rect x="467" y="12" width="14" height="1" fill="#505050"/></g>
<polygon points="467.8,2.5 469.5,-0.5 471.2,2.5" fill="#505050"/><polygon points="478.5,10.8 481.5,12.5 478.5,14.2" fill="#505050"/>
<g shape-rendering="crispEdges"><rect x="474" y="1" width="1" height="10" fill="#2868c0"/><rect x="476" y="6" width="5" height="1" fill="#e02020"/></g><polygon points="475.5,6.5 478.5,4 478.5,9" fill="#e02020"/>
<path d="M500.5,-1 h7 l3,3 v9 h-10 z" fill="#fff" stroke="#888" stroke-width="1"/><text x="503" y="8" font-size="8" fill="#888" font-style="italic">f</text>
<path d="M508,4 h4 v4 h4 v4 h-4 v4 h-4 v-4 h-4 v-4 h4 z" fill="url(#grn)" stroke="#0a8a0a" stroke-width="0.8"/>
<polygon points="522,6 528,6 525,9" fill="#000"/>
<circle cx="546" cy="6.5" r="7.5" fill="url(#blu)" stroke="#1850a8" stroke-width="0.8"/><circle cx="546" cy="6.5" r="4.8" fill="#f4f8ff"/><path d="M546,3 v4 h3" fill="none" stroke="#606060" stroke-width="1"/>
<polygon points="561,6 567,6 564,9" fill="#000"/>
<rect x="577.5" y="-0.5" width="15" height="13" fill="#fff" stroke="#3878c8" stroke-width="1"/><rect x="577" y="-1" width="16" height="3" fill="#3878c8"/><path d="M579,6 l3,-1 l3,1 l3,-2 l3,1" fill="none" stroke="#c03020" stroke-width="1"/><path d="M579,10 l3,-1 l3,1 l3,-2 l3,1" fill="none" stroke="#20a020" stroke-width="1"/>
<polygon points="599,6 605,6 602,9" fill="#000"/>
<polygon points="629,-1 629,12 632,9.5 634.5,14 636.5,13 634,8.5 638,8.5" fill="#404040"/>
<g shape-rendering="crispEdges"><rect x="661" y="0" width="1" height="15" fill="#505050"/><rect x="654" y="7" width="15" height="1" fill="#505050"/></g>
<g shape-rendering="crispEdges"><rect x="695" y="1" width="1" height="13" fill="#505050"/><rect x="718" y="7" width="12" height="1" fill="#505050"/></g>
<line x1="745.5" y1="13.5" x2="758" y2="1.5" stroke="#505050" stroke-width="1.1"/>
<g stroke="#505050" stroke-width="1" fill="none"><line x1="772" y1="11" x2="784" y2="1"/><line x1="774" y1="14" x2="786" y2="4"/><line x1="775" y1="5" x2="778" y2="12"/><line x1="779" y1="2" x2="782" y2="9"/></g>
<text x="783" y="16" font-size="7" fill="#404040" text-anchor="start" font-weight="bold" >E</text>
<g shape-rendering="crispEdges"><rect x="801" y="0" width="1" height="1" fill="#505050"/><rect x="803" y="0" width="1" height="1" fill="#505050"/><rect x="805" y="0" width="1" height="1" fill="#505050"/><rect x="807" y="0" width="1" height="1" fill="#505050"/><rect x="809" y="0" width="1" height="1" fill="#505050"/><rect x="811" y="0" width="1" height="1" fill="#505050"/><rect x="813" y="0" width="1" height="1" fill="#505050"/><rect x="801" y="4" width="1" height="1" fill="#505050"/><rect x="803" y="4" width="1" height="1" fill="#505050"/><rect x="805" y="4" width="1" height="1" fill="#505050"/><rect x="807" y="4" width="1" height="1" fill="#505050"/><rect x="809" y="4" width="1" height="1" fill="#505050"/><rect x="811" y="4" width="1" height="1" fill="#505050"/><rect x="813" y="4" width="1" height="1" fill="#505050"/><rect x="801" y="8" width="1" height="1" fill="#505050"/><rect x="803" y="8" width="1" height="1" fill="#505050"/><rect x="805" y="8" width="1" height="1" fill="#505050"/><rect x="807" y="8" width="1" height="1" fill="#505050"/><rect x="809" y="8" width="1" height="1" fill="#505050"/><rect x="811" y="8" width="1" height="1" fill="#505050"/><rect x="813" y="8" width="1" height="1" fill="#505050"/><rect x="801" y="11" width="1" height="1" fill="#505050"/><rect x="803" y="11" width="1" height="1" fill="#505050"/><rect x="805" y="11" width="1" height="1" fill="#505050"/><rect x="807" y="11" width="1" height="1" fill="#505050"/><rect x="809" y="11" width="1" height="1" fill="#505050"/></g>
<text x="811" y="16.5" font-size="6.5" fill="#404040" text-anchor="start" font-weight="bold" >F</text>
<text x="832" y="12" font-size="12" fill="#404040" text-anchor="start" font-weight="normal" >A</text>
<rect x="858.5" y="0.5" width="11" height="13" fill="none" stroke="#606060" stroke-width="1" stroke-dasharray="1,1" shape-rendering="crispEdges"/>
<text x="860" y="12" font-size="11" fill="#404040" text-anchor="start" font-weight="normal" >T</text>
<polygon points="888,1 892,5 888,5.5 884.5,5" fill="#404040"/><path d="M887,9 l2.5,3 l4.5,-6" fill="none" stroke="#404040" stroke-width="1.6"/><polygon points="893,10.5 896.5,8 900,11 896.5,14" fill="#404040"/>
<polygon points="905,6 911,6 908,9" fill="#000"/>
<text x="932.5" y="10.8" font-size="9.2" fill="#303030" text-anchor="start" font-weight="normal" textLength="13" lengthAdjust="spacingAndGlyphs">M1</text>
<text x="960.5" y="10.8" font-size="9.2" fill="#303030" text-anchor="start" font-weight="normal" textLength="12" lengthAdjust="spacingAndGlyphs">M5</text>
<text x="985.5" y="10.8" font-size="9.2" fill="#303030" text-anchor="start" font-weight="normal" textLength="18" lengthAdjust="spacingAndGlyphs">M15</text>
<text x="1013.5" y="10.8" font-size="9.2" fill="#303030" text-anchor="start" font-weight="normal" textLength="18" lengthAdjust="spacingAndGlyphs">M30</text>
<text x="1044.5" y="10.8" font-size="9.2" fill="#303030" text-anchor="start" font-weight="normal" textLength="13" lengthAdjust="spacingAndGlyphs">H1</text>
<text x="1072.5" y="10.8" font-size="9.2" fill="#303030" text-anchor="start" font-weight="normal" textLength="12" lengthAdjust="spacingAndGlyphs">H4</text>
<text x="1100.5" y="10.8" font-size="9.2" fill="#303030" text-anchor="start" font-weight="normal" textLength="12" lengthAdjust="spacingAndGlyphs">D1</text>
<text x="1128.5" y="10.8" font-size="9.2" fill="#303030" text-anchor="start" font-weight="normal" textLength="14" lengthAdjust="spacingAndGlyphs">W1</text>
<text x="1154.5" y="10.8" font-size="9.2" fill="#303030" text-anchor="start" font-weight="normal" textLength="15" lengthAdjust="spacingAndGlyphs">MN</text>
<circle cx="1648" cy="5" r="4.5" fill="#f4f8ff" stroke="#2868d0" stroke-width="1.6"/><line x1="1644.5" y1="8.5" x2="1640.5" y2="12.5" stroke="#2868d0" stroke-width="2.4" stroke-linecap="round"/>
<path d="M1665,6 a6,5 0 0 1 12,-2 v6 h-6 l-3,4 v-4 a5,5 0 0 1 -3,-4 z" fill="#e0e0e8" stroke="#a0a0a8" stroke-width="0.8"/>
<circle cx="1679" cy="4" r="8" fill="#d82810"/>
<text x="1679" y="9" font-size="12" fill="#fff" text-anchor="middle" font-weight="normal" >1</text>
</svg>
</body></html>
